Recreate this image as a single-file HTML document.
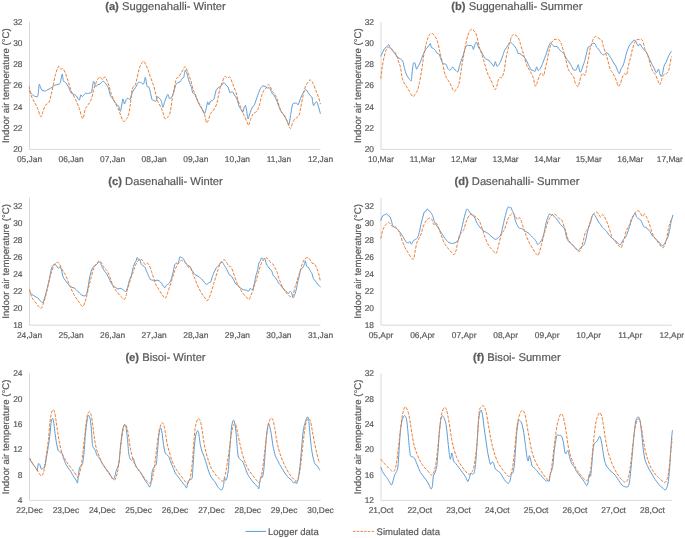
<!DOCTYPE html>
<html><head><meta charset="utf-8"><style>
html,body{margin:0;padding:0;background:#fff;}
svg{display:block;}
text{text-rendering:geometricPrecision;font-family:"Liberation Sans",Arial,sans-serif;fill:#595959;stroke:#595959;stroke-width:0.2px;}
.t{font-size:11.2px;}
.yt{font-size:9.6px;}
.l{font-size:8.4px;}
.lg{font-size:9.5px;}
.ax{fill:none;stroke:#d9d9d9;stroke-width:1;}
.log{fill:none;stroke:#5b9bd5;stroke-width:1.0;stroke-linejoin:round;}
.sim{fill:none;stroke:#ed7d31;stroke-width:1.0;stroke-dasharray:3.1,1.4;}
</style></head><body>
<svg width="685" height="538" viewBox="0 0 685 538">
<text x="165.5" y="9.5" class="t" text-anchor="middle"><tspan font-weight="bold">(a)</tspan> Suggenahalli- Winter</text>
<text transform="translate(8.9,85.7) rotate(-90)" class="yt" text-anchor="middle">Indoor air temperature (°C)</text>
<text x="22.5" y="152.1" class="l" text-anchor="end">20</text>
<text x="22.5" y="130.9" class="l" text-anchor="end">22</text>
<text x="22.5" y="109.6" class="l" text-anchor="end">24</text>
<text x="22.5" y="88.4" class="l" text-anchor="end">26</text>
<text x="22.5" y="67.2" class="l" text-anchor="end">28</text>
<text x="22.5" y="45.9" class="l" text-anchor="end">30</text>
<text x="22.5" y="24.7" class="l" text-anchor="end">32</text>
<text x="29.5" y="161.9" class="l" text-anchor="middle">05,Jan</text>
<text x="71.1" y="161.9" class="l" text-anchor="middle">06,Jan</text>
<text x="112.6" y="161.9" class="l" text-anchor="middle">07,Jan</text>
<text x="154.2" y="161.9" class="l" text-anchor="middle">08,Jan</text>
<text x="195.8" y="161.9" class="l" text-anchor="middle">09,Jan</text>
<text x="237.4" y="161.9" class="l" text-anchor="middle">10,Jan</text>
<text x="278.9" y="161.9" class="l" text-anchor="middle">11,Jan</text>
<text x="320.5" y="161.9" class="l" text-anchor="middle">12,Jan</text>
<path d="M29.5 22V149.4H320.5" class="ax"/>
<path d="M29.19 89.94C29.4 90.34 30.42 92.67 30.97 93.36C31.53 94.06 33.17 95.55 33.95 95.89C34.73 96.24 37.06 97.64 37.67 96.34C38.27 95.04 38.89 86.01 39.15 84.74C39.41 83.47 39.6 84.88 39.9 85.48C40.19 86.09 41.16 89.29 41.68 89.94C42.2 90.6 43.78 91.08 44.36 91.13C44.93 91.19 45.72 90.82 46.59 90.39C47.45 89.96 50.92 87.99 51.79 87.42C52.66 86.84 53.15 85.88 54.02 85.48C54.89 85.08 58.48 84.34 59.23 84C59.97 83.65 60.07 83.67 60.42 82.51C60.76 81.35 61.85 74.21 62.2 74.03C62.55 73.86 63.04 80.09 63.39 81.02C63.74 81.96 64.62 81.46 65.17 82.06C65.73 82.67 67.45 84.96 68.15 86.23C68.84 87.49 70.43 91.96 71.12 92.92C71.82 93.87 73.49 94.06 74.1 94.41C74.7 94.75 75.72 95.23 76.33 95.89C76.93 96.55 78.78 100.18 79.3 100.06C79.82 99.93 80.44 95.25 80.79 94.85C81.14 94.45 81.93 96.6 82.28 96.64C82.62 96.67 83.33 95.58 83.76 95.15C84.2 94.71 85.56 93.09 85.99 92.92C86.43 92.74 87.05 93.66 87.48 93.66C87.91 93.66 89.22 93.09 89.71 92.92C90.2 92.74 91.21 93.51 91.64 92.17C92.08 90.84 92.96 82.16 93.43 81.47C93.9 80.77 95.14 85.85 95.66 86.23C96.18 86.61 97.37 85 97.89 84.74C98.41 84.48 99.51 84.43 100.12 84C100.73 83.56 102.49 81.11 103.09 81.02C103.7 80.94 104.72 82.47 105.32 83.25C105.93 84.03 107.69 86.24 108.3 87.71C108.9 89.19 110.01 94.59 110.53 95.89C111.05 97.19 112.15 98 112.76 98.87C113.37 99.73 115.04 102.46 115.73 103.33C116.43 104.19 118.15 105.38 118.71 106.3C119.26 107.22 120 112.08 120.49 111.21C120.98 110.34 122.42 99.7 122.87 98.87C123.32 98.03 123.98 103.98 124.36 104.07C124.74 104.16 125.72 100.3 126.14 99.61C126.56 98.92 127.5 98.16 127.97 98.12C128.45 98.09 129.68 100.01 130.2 99.31C130.72 98.62 131.83 93.53 132.43 92.17C133.04 90.82 134.71 88.84 135.41 87.71C136.1 86.59 137.78 83.12 138.38 82.51C138.99 81.9 140.01 82.34 140.61 82.51C141.22 82.68 143.03 84.6 143.59 84C144.14 83.39 144.97 77.04 145.37 77.3C145.77 77.57 146.61 85.1 147.01 86.23C147.41 87.35 148.41 86.28 148.79 86.97C149.17 87.66 149.9 90.7 150.28 92.17C150.66 93.65 151.63 98.66 152.06 99.61C152.5 100.56 153.55 100.14 154 100.35C154.45 100.56 155.5 101.83 155.93 101.39C156.36 100.96 157.25 96.93 157.71 96.64C158.18 96.34 159.51 98.35 159.94 98.87C160.38 99.39 161.08 100.11 161.43 101.1C161.78 102.09 162.52 107.34 162.92 107.34C163.32 107.34 164.28 102.61 164.85 101.1C165.42 99.59 167.27 94.67 167.83 94.41C168.38 94.14 169.14 98.61 169.61 98.87C170.08 99.13 171.41 97.24 171.84 96.64C172.27 96.03 172.89 94.96 173.33 93.66C173.76 92.36 175.04 86.78 175.56 85.48C176.08 84.18 177.27 82.91 177.79 82.51C178.31 82.11 179.55 82.5 180.02 82.06C180.49 81.63 181.37 79.35 181.8 78.79C182.24 78.24 183.34 78.31 183.74 77.3C184.14 76.3 184.82 70.51 185.22 70.17C185.62 69.82 186.72 73.06 187.16 74.33C187.59 75.6 188.42 79.46 188.94 81.02C189.46 82.58 191.18 86.33 191.62 87.71C192.05 89.1 192.31 92.19 192.66 92.92C193 93.65 194.16 93.35 194.59 93.96C195.02 94.57 195.91 97.03 196.38 98.12C196.84 99.22 198 102.11 198.61 103.33C199.21 104.54 200.89 107.32 201.58 108.53C202.27 109.75 203.98 113.91 204.55 113.74C205.13 113.56 206.12 108.43 206.49 107.04C206.85 105.66 207.38 102.1 207.68 101.84C207.97 101.58 208.69 104.9 209.01 104.81C209.34 104.73 210.07 101.62 210.5 101.1C210.94 100.58 212.3 100.7 212.73 100.35C213.17 100.01 213.84 99.25 214.22 98.12C214.6 97 215.57 91.87 216 90.69C216.44 89.51 217.45 88.5 217.94 88.01C218.42 87.53 219.65 86.91 220.17 86.52C220.69 86.14 221.98 85.21 222.4 84.74C222.82 84.27 223.4 82.51 223.78 82.51C224.17 82.51 225.23 84.22 225.72 84.74C226.2 85.26 227.43 86.02 227.95 86.97C228.47 87.92 229.69 92.4 230.18 92.92C230.66 93.44 231.59 91.17 232.11 91.43C232.63 91.69 234.08 94.28 234.64 95.15C235.19 96.02 236.35 97.57 236.87 98.87C237.39 100.17 238.58 105 239.1 106.3C239.62 107.6 240.9 109.32 241.33 110.02C241.76 110.71 242.47 112.6 242.82 112.25C243.16 111.9 243.99 107.83 244.3 107.04C244.62 106.26 245.23 105.21 245.49 105.56C245.75 105.9 246.24 108.46 246.54 110.02C246.83 111.58 247.59 118.68 248.02 118.94C248.46 119.2 249.73 113.64 250.25 112.25C250.77 110.86 252 107.91 252.48 107.04C252.97 106.18 253.95 105.77 254.42 104.81C254.88 103.86 255.98 100.34 256.5 98.87C257.02 97.39 258.36 93.48 258.88 92.17C259.4 90.87 260.49 88.46 260.96 87.71C261.43 86.97 262.41 85.92 262.89 85.78C263.38 85.64 264.6 86.26 265.12 86.52C265.64 86.78 266.87 87.87 267.35 88.01C267.84 88.15 268.94 87.57 269.29 87.71C269.63 87.85 269.98 88.51 270.33 89.2C270.67 89.89 271.83 92.97 272.26 93.66C272.69 94.36 273.58 94.45 274.04 95.15C274.51 95.84 275.75 98.4 276.28 99.61C276.8 100.82 277.99 104.26 278.51 105.56C279.03 106.86 280.22 109.81 280.74 110.76C281.26 111.72 282.45 112.96 282.97 113.74C283.49 114.52 284.68 116.5 285.2 117.45C285.72 118.41 286.99 121.05 287.43 121.91C287.86 122.78 288.53 125.76 288.91 124.89C289.3 124.02 290.27 116.91 290.7 114.48C291.13 112.05 292.15 105.37 292.63 104.07C293.12 102.77 294.43 103.47 294.86 103.33C295.3 103.19 295.97 102.71 296.35 102.88C296.73 103.05 297.7 105.2 298.13 104.81C298.57 104.43 299.58 100.82 300.07 99.61C300.55 98.4 301.78 95.45 302.3 94.41C302.82 93.36 304.09 91.26 304.53 90.69C304.96 90.12 305.58 89.24 306.01 89.5C306.45 89.76 307.72 92.17 308.25 92.92C308.77 93.66 310.04 95.37 310.48 95.89C310.91 96.41 311.62 96.25 311.96 97.38C312.31 98.51 313.05 104.95 313.45 105.56C313.85 106.16 314.98 103.02 315.38 102.58C315.78 102.15 316.52 101.41 316.87 101.84C317.22 102.27 317.94 104.91 318.36 106.3C318.77 107.69 320.2 112.87 320.44 113.74" class="log"/>
<path d="M29.19 86.23C29.49 87.71 30.06 92.42 30.97 95.15C31.89 97.87 33.58 100.35 34.69 102.58C35.81 104.81 36.67 106.18 37.67 108.53C38.66 110.89 39.77 116.09 40.64 116.71C41.51 117.33 42.13 114.11 42.87 112.25C43.61 110.39 44.11 107.17 45.1 105.56C46.09 103.95 47.83 104.32 48.82 102.58C49.81 100.85 50.3 98.12 51.05 95.15C51.79 92.17 52.54 88.21 53.28 84.74C54.02 81.27 54.64 77.35 55.51 74.33C56.38 71.31 57.62 67.47 58.48 66.6C59.35 65.73 59.97 68.78 60.71 69.13C61.46 69.47 62.2 68.06 62.94 68.68C63.69 69.3 64.31 70.79 65.17 72.84C66.04 74.9 67.16 78.05 68.15 81.02C69.14 84 69.88 87.59 71.12 90.69C72.36 93.79 74.22 96.64 75.58 99.61C76.95 102.58 78.11 105.36 79.3 108.53C80.49 111.7 81.73 118.52 82.72 118.64C83.71 118.77 84.46 111.46 85.25 109.28C86.04 107.09 86.49 107.17 87.48 105.56C88.47 103.95 90.21 102.09 91.2 99.61C92.19 97.13 92.56 93.66 93.43 90.69C94.29 87.71 95.36 84.05 96.4 81.77C97.44 79.49 98.68 77.38 99.67 77.01C100.66 76.64 101.46 79.54 102.35 79.54C103.24 79.54 104.03 76.26 105.03 77.01C106.02 77.75 107.26 81.22 108.3 84C109.34 86.77 110.16 90.56 111.27 93.66C112.39 96.76 113.75 99.86 114.99 102.58C116.23 105.31 117.34 106.92 118.71 110.02C120.07 113.12 121.93 119.68 123.17 121.17C124.41 122.66 125.34 119.68 126.14 118.94C126.94 118.2 127.3 118.94 127.97 116.71C128.65 114.48 129.58 109.65 130.2 105.56C130.82 101.47 131.2 95.27 131.69 92.17C132.19 89.08 132.56 88.21 133.18 86.97C133.8 85.73 134.79 86.1 135.41 84.74C136.03 83.38 136.28 81.39 136.9 78.79C137.52 76.19 138.38 71.6 139.13 69.13C139.87 66.65 140.61 65.24 141.36 63.92C142.1 62.61 142.84 61.12 143.59 61.25C144.33 61.37 145.07 63.23 145.82 64.67C146.56 66.1 147.3 67.89 148.05 69.87C148.79 71.85 149.41 74.08 150.28 76.56C151.15 79.04 152.39 82.01 153.25 84.74C154.12 87.47 154.86 90.44 155.48 92.92C156.1 95.4 156.35 97.75 156.97 99.61C157.59 101.47 158.46 102.58 159.2 104.07C159.94 105.56 160.74 106.92 161.43 108.53C162.13 110.14 162.79 112.05 163.36 113.74C163.93 115.42 164.18 118.02 164.85 118.64C165.52 119.26 166.59 118.15 167.38 117.45C168.17 116.76 168.99 116.21 169.61 114.48C170.23 112.74 170.6 110.14 171.1 107.04C171.59 103.95 172.09 98.87 172.58 95.89C173.08 92.92 173.45 92.05 174.07 89.2C174.69 86.35 175.56 80.77 176.3 78.79C177.04 76.81 177.79 78.17 178.53 77.3C179.28 76.44 180.02 74.83 180.76 73.59C181.51 72.35 182.25 71.03 182.99 69.87C183.74 68.71 184.48 66.35 185.22 66.6C185.97 66.85 186.59 69.2 187.45 71.36C188.32 73.51 189.49 76.56 190.43 79.54C191.37 82.51 192.24 86.6 193.1 89.2C193.97 91.8 194.84 93.17 195.63 95.15C196.43 97.13 197 99.24 197.86 101.1C198.73 102.96 199.85 104.44 200.84 106.3C201.83 108.16 203.07 110.39 203.81 112.25C204.55 114.11 204.85 115.72 205.3 117.45C205.74 119.19 205.99 122.16 206.49 122.66C206.98 123.15 207.6 121.91 208.27 120.43C208.94 118.94 209.63 115.47 210.5 113.74C211.37 112 212.48 111.51 213.48 110.02C214.47 108.53 215.71 106.8 216.45 104.81C217.19 102.83 217.32 100.97 217.94 98.12C218.56 95.27 219.42 90.44 220.17 87.71C220.91 84.99 221.65 83.62 222.4 81.77C223.15 79.91 223.88 77.18 224.68 76.56C225.48 75.94 226.36 77.97 227.2 78.05C228.05 78.12 228.99 76.51 229.73 77.01C230.48 77.5 230.97 79.36 231.67 81.02C232.36 82.68 233.15 84.99 233.9 86.97C234.64 88.95 235.38 90.56 236.13 92.92C236.87 95.27 237.61 98.74 238.36 101.1C239.1 103.45 239.84 105.19 240.59 107.04C241.33 108.9 242.07 110.51 242.82 112.25C243.56 113.98 244.3 115.72 245.05 117.45C245.79 119.19 246.66 121.37 247.28 122.66C247.9 123.95 248.15 125.93 248.77 125.19C249.39 124.44 250.25 120.11 251 118.2C251.74 116.29 252.48 114.73 253.23 113.74C253.97 112.74 254.71 112.87 255.46 112.25C256.2 111.63 256.94 111.51 257.69 110.02C258.43 108.53 259.3 105.56 259.92 103.33C260.54 101.1 260.79 98.74 261.41 96.64C262.02 94.53 262.89 92.05 263.64 90.69C264.38 89.32 265.12 89.5 265.87 88.46C266.61 87.42 267.35 84.69 268.1 84.44C268.84 84.19 269.58 85.81 270.33 86.97C271.07 88.14 271.81 90.19 272.56 91.43C273.3 92.67 274.04 93.17 274.79 94.41C275.53 95.64 276.28 96.88 277.02 98.87C277.76 100.85 278.51 104.07 279.25 106.3C279.99 108.53 280.61 110.76 281.48 112.25C282.35 113.74 283.46 113.61 284.45 115.22C285.44 116.83 286.44 119.68 287.43 121.91C288.42 124.14 289.53 128.48 290.4 128.61C291.27 128.73 291.89 124.27 292.63 122.66C293.38 121.05 294.12 119.81 294.86 118.94C295.61 118.07 296.35 118.2 297.09 117.45C297.84 116.71 298.7 116.21 299.32 114.48C299.94 112.74 300.19 110.14 300.81 107.04C301.43 103.95 302.3 99.24 303.04 95.89C303.78 92.55 304.4 89.32 305.27 86.97C306.14 84.62 307.38 82.93 308.25 81.77C309.11 80.6 309.68 79.73 310.48 79.98C311.27 80.23 312.14 81.59 313 83.25C313.87 84.91 314.79 87.71 315.68 89.94C316.57 92.17 317.56 94.28 318.36 96.64C319.15 98.99 320.09 102.83 320.44 104.07" class="sim"/>
<text x="516.9" y="9.5" class="t" text-anchor="middle"><tspan font-weight="bold">(b)</tspan> Suggenahalli- Summer</text>
<text transform="translate(360.6,85.7) rotate(-90)" class="yt" text-anchor="middle">Indoor air temperature (°C)</text>
<text x="374" y="152.1" class="l" text-anchor="end">20</text>
<text x="374" y="130.9" class="l" text-anchor="end">22</text>
<text x="374" y="109.6" class="l" text-anchor="end">24</text>
<text x="374" y="88.4" class="l" text-anchor="end">26</text>
<text x="374" y="67.2" class="l" text-anchor="end">28</text>
<text x="374" y="45.9" class="l" text-anchor="end">30</text>
<text x="374" y="24.7" class="l" text-anchor="end">32</text>
<text x="381" y="161.9" class="l" text-anchor="middle">10,Mar</text>
<text x="422.5" y="161.9" class="l" text-anchor="middle">11,Mar</text>
<text x="464.1" y="161.9" class="l" text-anchor="middle">12,Mar</text>
<text x="505.6" y="161.9" class="l" text-anchor="middle">13,Mar</text>
<text x="547.2" y="161.9" class="l" text-anchor="middle">14,Mar</text>
<text x="588.7" y="161.9" class="l" text-anchor="middle">15,Mar</text>
<text x="630.3" y="161.9" class="l" text-anchor="middle">16,Mar</text>
<text x="669.8" y="161.9" class="l" text-anchor="middle">17,Mar</text>
<path d="M381 22V149.4H671.8" class="ax"/>
<path d="M380.78 56.43C381.01 55.91 382.23 52.92 382.72 51.97C383.2 51.02 384.43 48.89 384.95 48.25C385.47 47.61 386.74 46.9 387.18 46.47C387.61 46.03 388.32 44.41 388.67 44.54C389.01 44.66 389.72 46.82 390.15 47.51C390.59 48.2 391.78 49.7 392.38 50.48C392.99 51.26 394.75 53.39 395.36 54.2C395.96 55.02 396.98 56.92 397.59 57.47C398.19 58.03 399.95 58.51 400.56 58.96C401.17 59.41 402.36 60.33 402.79 61.34C403.23 62.34 403.93 66.25 404.28 67.58C404.63 68.92 405.33 71.66 405.77 72.79C406.2 73.92 407.48 76.38 408 77.25C408.52 78.12 409.83 79.88 410.23 80.22C410.63 80.57 411.16 81.52 411.42 80.22C411.68 78.92 412.21 71.07 412.46 69.07C412.7 67.08 413.2 63.82 413.5 63.12C413.79 62.43 414.64 62.43 414.99 63.12C415.33 63.82 416.13 68.64 416.47 69.07C416.82 69.5 417.56 67.53 417.96 66.84C418.36 66.15 419.41 64.25 419.89 63.12C420.38 62 421.69 58.3 422.12 57.17C422.56 56.05 423.18 54.41 423.61 53.46C424.04 52.5 425.32 49.78 425.84 49C426.36 48.22 427.55 47.41 428.07 46.77C428.59 46.12 429.92 43.41 430.3 43.49C430.68 43.58 431 46.95 431.34 47.51C431.69 48.06 432.79 47.91 433.28 48.25C433.76 48.6 435.04 49.88 435.51 50.48C435.97 51.09 436.86 53.02 437.29 53.46C437.72 53.89 438.82 53.59 439.22 54.2C439.62 54.81 440.31 57.62 440.71 58.66C441.11 59.7 442.21 62.52 442.64 63.12C443.08 63.73 444.01 63.69 444.43 63.87C444.84 64.04 445.83 64.09 446.21 64.61C446.59 65.13 447.3 67.67 447.7 68.33C448.1 68.99 449.23 70.17 449.63 70.26C450.03 70.35 450.77 69.47 451.12 69.07C451.47 68.67 452.26 66.84 452.61 66.84C452.95 66.84 453.69 68.64 454.09 69.07C454.49 69.5 455.59 70.21 456.03 70.56C456.46 70.9 457.43 72.48 457.81 72.04C458.19 71.61 458.92 68.14 459.3 66.84C459.68 65.54 460.65 62.19 461.08 60.89C461.52 59.59 462.56 57.08 463.01 55.69C463.47 54.3 464.51 50.21 464.95 49C465.38 47.78 466.26 45.68 466.73 45.28C467.2 44.88 468.44 45.54 468.96 45.58C469.48 45.61 470.79 45.47 471.19 45.58C471.59 45.68 472.12 46.02 472.38 46.47C472.64 46.92 473.13 49.67 473.42 49.44C473.72 49.22 474.56 45.37 474.91 44.54C475.26 43.7 475.92 41.87 476.4 42.3C476.87 42.74 478.41 47.21 478.97 48.25C479.53 49.29 480.68 50.36 481.2 51.23C481.72 52.09 482.91 54.79 483.43 55.69C483.96 56.59 485.14 58.47 485.67 58.96C486.19 59.44 487.38 59.54 487.9 59.85C488.42 60.16 489.61 61.08 490.13 61.64C490.65 62.19 491.92 64.05 492.36 64.61C492.79 65.16 493.5 66.74 493.84 66.39C494.19 66.05 494.98 61.67 495.33 61.64C495.68 61.6 496.47 65.66 496.82 66.1C497.16 66.53 497.87 65.87 498.3 65.35C498.74 64.83 500.01 62.76 500.54 61.64C501.06 60.51 502.33 56.9 502.77 55.69C503.2 54.47 503.82 52.18 504.25 51.23C504.69 50.27 506 48.29 506.48 47.51C506.97 46.73 507.98 45.18 508.42 44.54C508.85 43.89 509.73 42.09 510.2 42.01C510.67 41.92 511.88 43.24 512.43 43.79C512.99 44.35 514.44 46.07 514.96 46.77C515.48 47.46 516.55 48.96 516.89 49.74C517.24 50.52 517.59 53.02 517.93 53.46C518.28 53.89 519.38 53.23 519.87 53.46C520.35 53.68 521.58 54.96 522.1 55.39C522.62 55.82 523.81 56.53 524.33 57.17C524.85 57.82 526.04 59.94 526.56 60.89C527.08 61.85 528.27 64.31 528.79 65.35C529.31 66.39 530.5 69.21 531.02 69.81C531.54 70.42 532.76 70.38 533.25 70.56C533.73 70.73 534.78 71.73 535.18 71.3C535.58 70.87 536.32 66.93 536.67 66.84C537.02 66.75 537.77 70.3 538.16 70.56C538.54 70.82 539.47 69.76 539.94 69.07C540.41 68.38 541.65 65.82 542.17 64.61C542.69 63.4 543.88 60.05 544.4 58.66C544.92 57.27 546.15 54.1 546.63 52.71C547.12 51.33 548.13 47.89 548.57 46.77C549 45.64 549.93 43.31 550.35 43.05C550.77 42.79 551.7 44.14 552.13 44.54C552.57 44.93 553.49 46.24 554.07 46.47C554.64 46.69 556.43 46.12 557.04 46.47C557.65 46.82 558.75 48.85 559.27 49.44C559.79 50.03 560.98 51.06 561.5 51.52C562.02 51.99 563.21 52.71 563.73 53.46C564.25 54.2 565.44 57.05 565.96 57.92C566.48 58.79 567.59 60.02 568.19 60.89C568.8 61.76 570.56 64.31 571.17 65.35C571.77 66.39 572.8 69.29 573.4 69.81C573.99 70.33 575.71 70.42 576.27 69.81C576.83 69.21 577.81 64.44 578.2 64.61C578.6 64.78 579.4 70.43 579.69 71.3C579.99 72.17 580.39 72.57 580.73 72.04C581.08 71.52 582.18 68.23 582.67 66.84C583.15 65.45 584.43 61.8 584.9 60.15C585.36 58.5 586.3 54.24 586.68 52.71C587.06 51.19 587.77 47.79 588.17 47.06C588.57 46.33 589.7 46.76 590.1 46.47C590.5 46.17 591.24 44.93 591.59 44.54C591.93 44.14 592.68 43.14 593.07 43.05C593.47 42.96 594.57 43.27 595.01 43.79C595.44 44.31 596.32 46.82 596.79 47.51C597.26 48.2 598.5 49.05 599.02 49.74C599.54 50.43 600.73 52.85 601.25 53.46C601.77 54.06 603 54.94 603.48 54.94C603.97 54.94 604.98 53.72 605.42 53.46C605.85 53.2 606.73 52.45 607.2 52.71C607.67 52.97 608.91 54.91 609.43 55.69C609.95 56.47 611.14 58.54 611.66 59.41C612.18 60.27 613.37 62.26 613.89 63.12C614.41 63.99 615.69 65.97 616.12 66.84C616.56 67.71 617.23 69.78 617.61 70.56C617.99 71.34 619.01 73.71 619.39 73.53C619.78 73.36 620.48 69.94 620.88 69.07C621.28 68.2 622.36 67.14 622.81 66.1C623.27 65.06 624.31 61.71 624.75 60.15C625.18 58.59 626.06 54.28 626.53 52.71C627 51.15 628.24 47.84 628.76 46.77C629.28 45.69 630.47 44.19 630.99 43.49C631.51 42.8 632.79 41.22 633.22 40.82C633.66 40.42 634.36 39.9 634.71 40.07C635.06 40.25 635.8 41.61 636.2 42.3C636.6 43 637.7 45.85 638.13 46.02C638.56 46.2 639.5 43.71 639.91 43.79C640.33 43.88 641.21 46.07 641.7 46.77C642.18 47.46 643.56 49.13 644.08 49.74C644.6 50.35 645.69 51.28 646.16 51.97C646.63 52.66 647.61 54.65 648.09 55.69C648.58 56.73 649.8 59.76 650.32 60.89C650.84 62.02 652.07 64.4 652.55 65.35C653.04 66.31 654.05 68.2 654.49 69.07C654.92 69.94 655.8 72.79 656.27 72.79C656.74 72.79 658.12 69.07 658.5 69.07C658.88 69.07 659.25 71.92 659.54 72.79C659.84 73.66 660.68 76.42 661.03 76.51C661.38 76.59 662.17 74.75 662.52 73.53C662.86 72.32 663.6 67.4 664 66.1C664.4 64.8 665.45 63.42 665.94 62.38C666.42 61.34 667.7 58.22 668.17 57.17C668.64 56.13 669.57 54.15 669.95 53.46C670.33 52.76 671.27 51.49 671.44 51.23" class="log"/>
<path d="M380.78 78.74C380.98 77.13 381.53 72.17 381.97 69.07C382.42 65.97 382.84 63.12 383.46 60.15C384.08 57.17 384.95 53.33 385.69 51.23C386.43 49.12 387.18 48 387.92 47.51C388.67 47.01 389.29 47.76 390.15 48.25C391.02 48.75 392.14 49.49 393.13 50.48C394.12 51.47 395.23 52.47 396.1 54.2C396.97 55.94 397.59 58.66 398.33 60.89C399.07 63.12 399.94 64.86 400.56 67.58C401.18 70.31 401.43 74.65 402.05 77.25C402.67 79.85 403.41 81.46 404.28 83.2C405.15 84.93 406.39 86.29 407.25 87.66C408.12 89.02 408.54 89.89 409.48 91.38C410.43 92.86 411.91 96.21 412.9 96.58C413.89 96.95 414.64 94.72 415.43 93.61C416.22 92.49 416.99 91.75 417.66 89.89C418.33 88.03 418.83 85.43 419.45 82.45C420.07 79.48 420.81 75.51 421.38 72.04C421.95 68.57 422.37 64.98 422.87 61.64C423.36 58.29 423.73 55.19 424.35 51.97C424.97 48.75 425.84 45.03 426.58 42.3C427.33 39.58 428.07 37.1 428.81 35.61C429.56 34.13 430.3 33.63 431.04 33.38C431.79 33.14 432.53 33.51 433.28 34.13C434.02 34.75 434.76 35.74 435.51 37.1C436.25 38.46 437.12 40.32 437.74 42.3C438.36 44.29 438.73 46.77 439.22 49C439.72 51.23 440.14 53.33 440.71 55.69C441.28 58.04 442.02 60.4 442.64 63.12C443.26 65.85 443.83 69.69 444.43 72.04C445.02 74.4 445.59 75.89 446.21 77.25C446.83 78.61 447.45 79.11 448.14 80.22C448.84 81.34 449.63 82.45 450.38 83.94C451.12 85.43 451.91 87.91 452.61 89.14C453.3 90.38 453.92 91.38 454.54 91.38C455.16 91.38 455.65 90.14 456.32 89.14C456.99 88.15 457.86 87.78 458.55 85.43C459.25 83.07 459.87 78.74 460.49 75.02C461.11 71.3 461.6 67.09 462.27 63.12C462.94 59.16 463.76 55.19 464.5 51.23C465.25 47.26 465.99 42.43 466.73 39.33C467.48 36.23 468.17 34.32 468.96 32.64C469.76 30.95 470.62 29.47 471.49 29.22C472.36 28.97 473.35 30.21 474.17 31.15C474.99 32.09 475.55 32.27 476.4 34.87C477.25 37.47 478.47 43.79 479.27 46.77C480.07 49.74 480.51 50.61 481.2 52.71C481.9 54.82 482.69 56.93 483.43 59.41C484.18 61.88 484.92 65.11 485.67 67.58C486.41 70.06 487.03 72.17 487.9 74.28C488.76 76.38 490 78.36 490.87 80.22C491.74 82.08 492.41 83.87 493.1 85.43C493.79 86.99 494.41 89.47 495.03 89.59C495.65 89.71 496.27 87.73 496.82 86.17C497.36 84.61 497.76 81.71 498.3 80.22C498.85 78.74 499.47 77.74 500.09 77.25C500.71 76.75 501.33 78.36 502.02 77.25C502.72 76.13 503.63 73.41 504.25 70.56C504.87 67.71 505.19 63.37 505.74 60.15C506.29 56.93 506.9 53.95 507.52 51.23C508.14 48.5 508.76 46.27 509.46 43.79C510.15 41.31 510.94 37.92 511.69 36.36C512.43 34.8 513.17 34.55 513.92 34.42C514.66 34.3 515.41 35.04 516.15 35.61C516.89 36.18 517.64 36.36 518.38 37.84C519.12 39.33 519.87 42.18 520.61 44.54C521.35 46.89 522.22 49.86 522.84 51.97C523.46 54.08 523.71 55.07 524.33 57.17C524.95 59.28 525.81 62.63 526.56 64.61C527.3 66.59 528.04 67.71 528.79 69.07C529.53 70.43 530.28 71.3 531.02 72.79C531.76 74.28 532.51 75.76 533.25 77.99C533.99 80.22 534.81 85.43 535.48 86.17C536.15 86.91 536.64 84.06 537.26 82.45C537.88 80.84 538.5 78.12 539.2 76.51C539.89 74.89 540.68 72.91 541.43 72.79C542.17 72.66 543.04 76.38 543.66 75.76C544.28 75.14 544.57 71.55 545.14 69.07C545.71 66.59 546.46 63.74 547.08 60.89C547.7 58.04 548.19 54.82 548.86 51.97C549.53 49.12 550.3 45.77 551.09 43.79C551.89 41.81 552.75 40.82 553.62 40.07C554.49 39.33 555.36 39.33 556.3 39.33C557.24 39.33 558.4 39.21 559.27 40.07C560.14 40.94 560.76 42.55 561.5 44.54C562.25 46.52 562.99 49.37 563.73 51.97C564.48 54.57 565.22 57.3 565.96 60.15C566.71 63 567.33 66.84 568.19 69.07C569.06 71.3 570.18 72.04 571.17 73.53C572.16 75.02 573.54 76.63 574.14 77.99C574.74 79.36 574.36 80.47 574.78 81.71C575.21 82.95 576.15 84.61 576.72 85.43C577.29 86.25 577.71 87.36 578.2 86.62C578.7 85.87 579.2 82.78 579.69 80.97C580.19 79.16 580.61 77 581.18 75.76C581.75 74.52 582.44 73.66 583.11 73.53C583.78 73.41 584.52 76.38 585.19 75.02C585.86 73.66 586.56 68.33 587.13 65.35C587.7 62.38 588.12 59.9 588.61 57.17C589.11 54.45 589.6 51.23 590.1 49C590.6 46.77 591.02 45.53 591.59 43.79C592.16 42.06 592.85 39.78 593.52 38.59C594.19 37.4 594.86 36.78 595.6 36.65C596.35 36.53 597.16 37.4 597.98 37.84C598.8 38.29 599.84 38.84 600.51 39.33C601.18 39.83 601.5 39.58 602 40.82C602.49 42.06 602.86 44.66 603.48 46.77C604.1 48.87 604.97 51.1 605.71 53.46C606.46 55.81 607.2 58.29 607.94 60.89C608.69 63.49 609.43 67.09 610.17 69.07C610.92 71.05 611.66 71.55 612.41 72.79C613.15 74.03 613.97 75.14 614.64 76.51C615.3 77.87 615.8 79.36 616.42 80.97C617.04 82.58 617.71 85.68 618.35 86.17C619 86.67 619.67 85.3 620.29 83.94C620.91 82.58 621.4 79.73 622.07 77.99C622.74 76.26 623.56 74.03 624.3 73.53C625.04 73.04 625.91 76.01 626.53 75.02C627.15 74.03 627.4 70.31 628.02 67.58C628.64 64.86 629.51 61.76 630.25 58.66C630.99 55.56 631.74 51.72 632.48 49C633.22 46.27 633.97 43.87 634.71 42.3C635.45 40.74 636.2 40.07 636.94 39.63C637.68 39.18 638.43 39.68 639.17 39.63C639.91 39.58 640.73 38.88 641.4 39.33C642.07 39.78 642.57 40.57 643.19 42.3C643.81 44.04 644.43 47.76 645.12 49.74C645.81 51.72 646.68 52.47 647.35 54.2C648.02 55.94 648.51 57.92 649.13 60.15C649.75 62.38 650.37 65.6 651.07 67.58C651.76 69.57 652.55 70.81 653.3 72.04C654.04 73.28 654.78 73.66 655.53 75.02C656.27 76.38 657.01 78.61 657.76 80.22C658.5 81.83 659.29 84.93 659.99 84.68C660.68 84.44 661.25 80.47 661.92 78.74C662.59 77 663.26 75.14 664 74.28C664.75 73.41 665.64 74.03 666.38 73.53C667.13 73.04 667.87 72.79 668.46 71.3C669.06 69.81 669.46 67.09 669.95 64.61C670.45 62.13 671.19 57.79 671.44 56.43" class="sim"/>
<text x="165.5" y="185.1" class="t" text-anchor="middle"><tspan font-weight="bold">(c)</tspan> Dasenahalli- Winter</text>
<text transform="translate(8.9,261.4) rotate(-90)" class="yt" text-anchor="middle">Indoor air temperature (°C)</text>
<text x="22.5" y="327.9" class="l" text-anchor="end">18</text>
<text x="22.5" y="310.9" class="l" text-anchor="end">20</text>
<text x="22.5" y="293.9" class="l" text-anchor="end">22</text>
<text x="22.5" y="276.9" class="l" text-anchor="end">24</text>
<text x="22.5" y="259.9" class="l" text-anchor="end">26</text>
<text x="22.5" y="242.9" class="l" text-anchor="end">28</text>
<text x="22.5" y="225.9" class="l" text-anchor="end">30</text>
<text x="22.5" y="208.9" class="l" text-anchor="end">32</text>
<text x="29.5" y="337.7" class="l" text-anchor="middle">24,Jan</text>
<text x="71.1" y="337.7" class="l" text-anchor="middle">25,Jan</text>
<text x="112.6" y="337.7" class="l" text-anchor="middle">26,Jan</text>
<text x="154.2" y="337.7" class="l" text-anchor="middle">27,Jan</text>
<text x="195.8" y="337.7" class="l" text-anchor="middle">28,Jan</text>
<text x="237.4" y="337.7" class="l" text-anchor="middle">29,Jan</text>
<text x="278.9" y="337.7" class="l" text-anchor="middle">30,Jan</text>
<text x="320.5" y="337.7" class="l" text-anchor="middle">31,Jan</text>
<path d="M29.5 197.7V325.2H320.5" class="ax"/>
<path d="M29.49 291.3C29.75 291.65 31.11 293.7 31.72 294.28C32.32 294.85 34 295.77 34.69 296.21C35.39 296.64 37.06 297.52 37.67 297.99C38.27 298.46 39.32 299.67 39.9 300.22C40.47 300.78 42.05 302.92 42.57 302.75C43.09 302.58 43.89 300.16 44.36 298.74C44.83 297.31 46.07 292.55 46.59 290.56C47.11 288.56 48.38 283.54 48.82 281.64C49.25 279.73 49.96 275.85 50.3 274.2C50.65 272.55 51.36 268.67 51.79 267.51C52.23 266.35 53.59 264.58 54.02 264.24C54.46 263.89 55.16 264.24 55.51 264.54C55.86 264.83 56.65 266.33 57 266.77C57.34 267.2 58.14 268.25 58.48 268.25C58.83 268.25 59.62 266.59 59.97 266.77C60.32 266.94 61.11 268.61 61.46 269.74C61.8 270.87 62.51 275.22 62.94 276.43C63.38 277.65 64.65 279.37 65.17 280.15C65.7 280.93 66.88 282.43 67.41 283.12C67.93 283.82 69.12 285.61 69.64 286.1C70.16 286.58 71.35 287.08 71.87 287.29C72.39 287.49 73.58 287.59 74.1 287.88C74.62 288.18 75.81 289.33 76.33 289.81C76.85 290.3 78.04 291.52 78.56 292.04C79.08 292.57 80.27 293.84 80.79 294.28C81.31 294.71 82.5 295.59 83.02 295.76C83.54 295.94 84.82 296.02 85.25 295.76C85.68 295.5 86.39 294.66 86.74 293.53C87.08 292.4 87.88 288 88.22 286.1C88.57 284.19 89.36 278.91 89.71 277.17C90.06 275.44 90.76 272.48 91.2 271.23C91.63 269.98 92.91 267.16 93.43 266.47C93.95 265.77 95.14 265.68 95.66 265.28C96.18 264.88 97.45 263.43 97.89 263.05C98.32 262.67 99.03 261.92 99.38 262.01C99.72 262.09 100.52 263.15 100.86 263.79C101.21 264.43 101.92 266.64 102.35 267.51C102.78 268.38 104.06 270.45 104.58 271.23C105.1 272.01 106.29 273.33 106.81 274.2C107.33 275.07 108.52 277.62 109.04 278.66C109.56 279.7 110.75 282.26 111.27 283.12C111.79 283.99 112.98 285.58 113.5 286.1C114.02 286.62 115.21 287.24 115.73 287.58C116.25 287.93 117.44 288.98 117.96 289.07C118.48 289.16 119.67 288.33 120.19 288.33C120.71 288.33 121.9 288.72 122.42 289.07C122.94 289.42 124.22 291.04 124.65 291.3C125.09 291.56 125.75 291.91 126.14 291.3C126.53 290.69 127.59 287.4 127.97 286.1C128.36 284.8 129.08 281.36 129.46 280.15C129.84 278.93 130.81 277.16 131.25 275.69C131.68 274.21 132.78 268.98 133.18 267.51C133.58 266.03 134.32 263.83 134.67 263.05C135.01 262.27 135.86 261.46 136.15 260.82C136.45 260.18 136.9 257.63 137.19 257.55C137.49 257.46 138.37 259.87 138.68 260.07C138.99 260.28 139.56 258.81 139.87 259.33C140.18 259.85 140.92 263.75 141.36 264.54C141.79 265.32 143.15 265.68 143.59 266.02C144.02 266.37 144.73 266.9 145.07 267.51C145.42 268.12 146.16 270.27 146.56 271.23C146.96 272.18 148.06 274.73 148.49 275.69C148.93 276.64 149.81 278.88 150.28 279.41C150.75 279.93 151.99 279.98 152.51 280.15C153.03 280.32 154.22 280.89 154.74 280.89C155.26 280.89 156.45 280.15 156.97 280.15C157.49 280.15 158.68 280.55 159.2 280.89C159.72 281.24 160.95 282.52 161.43 283.12C161.92 283.73 162.98 285.54 163.36 286.1C163.75 286.65 164.36 287.97 164.7 287.88C165.05 287.79 165.9 285.82 166.34 285.35C166.77 284.88 167.95 284.3 168.42 283.87C168.89 283.43 169.95 282.42 170.35 281.64C170.75 280.86 171.49 278.39 171.84 277.17C172.19 275.96 172.98 272.7 173.33 271.23C173.67 269.75 174.42 265.49 174.81 264.54C175.21 263.58 176.35 263.14 176.75 263.05C177.15 262.96 177.89 264.49 178.23 263.79C178.58 263.1 179.34 257.83 179.72 257.1C180.1 256.37 181.09 257.37 181.51 257.55C181.92 257.72 182.91 258.12 183.29 258.59C183.67 259.06 184.38 260.87 184.78 261.56C185.18 262.26 186.26 263.84 186.71 264.54C187.16 265.23 188.3 267.34 188.64 267.51C188.99 267.68 189.39 265.85 189.68 266.02C189.98 266.2 190.77 268.3 191.17 269C191.57 269.69 192.67 271.33 193.1 271.97C193.54 272.61 194.42 274.06 194.89 274.5C195.36 274.93 196.6 275.38 197.12 275.69C197.64 276 198.83 276.79 199.35 277.17C199.87 277.56 201.06 278.44 201.58 278.96C202.1 279.48 203.38 281.1 203.81 281.64C204.24 282.17 204.86 283.27 205.3 283.57C205.73 283.86 207.09 284.3 207.53 284.16C207.96 284.02 208.67 282.59 209.01 282.38C209.36 282.17 210.15 282.9 210.5 282.38C210.85 281.86 211.64 278.96 211.99 277.92C212.34 276.88 213.13 274.32 213.48 273.46C213.82 272.59 214.62 271.18 214.96 270.48C215.31 269.79 216.05 268.03 216.45 267.51C216.85 266.99 217.95 266.54 218.38 266.02C218.82 265.5 219.75 263.48 220.17 263.05C220.58 262.61 221.57 262.25 221.95 262.3C222.33 262.36 223.22 263.23 223.44 263.49C223.65 263.75 223.52 264.07 223.78 264.54C224.05 265 225.23 266.64 225.72 267.51C226.2 268.38 227.48 271.05 227.95 271.97C228.42 272.89 229.3 274.87 229.73 275.39C230.17 275.91 231.21 275.91 231.67 276.43C232.12 276.95 233.13 278.98 233.6 279.85C234.07 280.72 235.16 283.22 235.68 283.87C236.2 284.51 237.57 284.92 238.06 285.35C238.55 285.79 239.38 287.15 239.84 287.58C240.31 288.02 241.55 288.81 242.07 289.07C242.59 289.33 243.78 289.68 244.3 289.81C244.83 289.95 246.05 290.09 246.54 290.26C247.02 290.43 248.03 291.53 248.47 291.3C248.9 291.08 249.87 288.5 250.25 288.33C250.63 288.15 251.43 289.73 251.74 289.81C252.05 289.9 252.62 289.85 252.93 289.07C253.24 288.29 254.07 284.68 254.42 283.12C254.76 281.56 255.52 277.25 255.9 275.69C256.29 274.13 257.34 271.21 257.69 269.74C258.03 268.27 258.57 264.09 258.88 263.05C259.19 262.01 260.07 261.43 260.36 260.82C260.66 260.21 261.11 258.02 261.41 257.84C261.7 257.67 262.49 259.24 262.89 259.33C263.29 259.42 264.43 258.07 264.83 258.59C265.22 259.11 265.93 262.84 266.31 263.79C266.69 264.75 267.68 266.16 268.1 266.77C268.51 267.37 269.45 268.48 269.88 269C270.31 269.52 271.42 270.45 271.81 271.23C272.21 272.01 272.9 274.96 273.3 275.69C273.7 276.42 274.8 276.95 275.23 277.47C275.67 277.99 276.64 279.49 277.02 280.15C277.4 280.81 278.07 282.52 278.51 283.12C278.94 283.73 280.22 284.75 280.74 285.35C281.26 285.96 282.45 287.72 282.97 288.33C283.49 288.93 284.68 290.09 285.2 290.56C285.72 291.03 287.03 292 287.43 292.34C287.83 292.69 288.3 293.65 288.62 293.53C288.93 293.41 289.76 291.39 290.1 291.3C290.45 291.21 291.24 292.01 291.59 292.79C291.94 293.57 292.7 297.82 293.08 297.99C293.46 298.17 294.48 295.32 294.86 294.28C295.24 293.23 296 290.55 296.35 289.07C296.7 287.6 297.49 283.2 297.84 281.64C298.18 280.07 298.98 277.11 299.32 275.69C299.67 274.27 300.38 270.4 300.81 269.44C301.24 268.49 302.61 268.17 303.04 267.51C303.47 266.85 304.27 264.57 304.53 263.79C304.79 263.01 305.01 260.51 305.27 260.82C305.53 261.13 306.38 265.69 306.76 266.47C307.14 267.25 308.11 266.95 308.54 267.51C308.98 268.06 310.08 270.53 310.48 271.23C310.87 271.92 311.62 272.59 311.96 273.46C312.31 274.32 313.05 277.79 313.45 278.66C313.85 279.53 314.95 280.29 315.38 280.89C315.82 281.5 316.75 283.35 317.17 283.87C317.58 284.39 318.57 284.95 318.95 285.35C319.33 285.75 320.27 287.06 320.44 287.29" class="log"/>
<path d="M29.49 289.07C29.73 290.06 30.35 293.28 30.97 295.02C31.59 296.75 32.34 298.12 33.2 299.48C34.07 300.84 35.31 302.08 36.18 303.2C37.05 304.31 37.59 305.3 38.41 306.17C39.23 307.04 40.34 308.65 41.09 308.4C41.83 308.15 42.2 306.42 42.87 304.68C43.54 302.95 44.36 300.59 45.1 297.99C45.84 295.39 46.59 292.29 47.33 289.07C48.07 285.85 48.82 281.64 49.56 278.66C50.3 275.69 51.05 273.46 51.79 271.23C52.54 269 53.15 266.77 54.02 265.28C54.89 263.79 56.13 262.6 57 262.3C57.86 262.01 58.48 262.5 59.23 263.49C59.97 264.49 60.71 266.84 61.46 268.25C62.2 269.67 62.94 270.73 63.69 271.97C64.43 273.21 65.17 274.08 65.92 275.69C66.66 277.3 67.41 279.78 68.15 281.64C68.89 283.49 69.64 285.11 70.38 286.84C71.12 288.57 71.74 290.31 72.61 292.04C73.48 293.78 74.47 295.51 75.58 297.25C76.7 298.98 78.11 300.89 79.3 302.45C80.49 304.01 81.8 306.62 82.72 306.62C83.64 306.62 84.13 304.26 84.8 302.45C85.47 300.64 86.04 298.49 86.74 295.76C87.43 293.04 88.22 289.19 88.97 286.1C89.71 283 90.45 280.02 91.2 277.17C91.94 274.32 92.56 271.23 93.43 269C94.29 266.77 95.46 265.15 96.4 263.79C97.34 262.43 98.21 260.94 99.08 260.82C99.95 260.69 100.81 261.93 101.61 263.05C102.4 264.16 102.97 266.27 103.84 267.51C104.7 268.75 105.94 269.24 106.81 270.48C107.68 271.72 108.3 273.21 109.04 274.94C109.78 276.68 110.53 278.91 111.27 280.89C112.01 282.87 112.63 285.11 113.5 286.84C114.37 288.57 115.48 289.94 116.48 291.3C117.47 292.66 118.46 293.9 119.45 295.02C120.44 296.13 121.61 297.25 122.42 297.99C123.24 298.74 123.74 299.85 124.36 299.48C124.98 299.11 125.74 297 126.14 295.76C126.55 294.52 126.36 293.78 126.78 292.04C127.21 290.31 128.07 287.58 128.72 285.35C129.36 283.12 129.98 280.64 130.65 278.66C131.32 276.68 132.06 275.32 132.73 273.46C133.4 271.6 133.97 269.37 134.67 267.51C135.36 265.65 136.15 263.54 136.9 262.3C137.64 261.07 138.43 260.57 139.13 260.07C139.82 259.58 140.44 259.21 141.06 259.33C141.68 259.45 142.17 259.95 142.84 260.82C143.51 261.69 144.33 264.16 145.07 264.54C145.82 264.91 146.64 262.92 147.3 263.05C147.97 263.17 148.4 263.92 149.09 265.28C149.78 266.64 150.72 269.12 151.47 271.23C152.21 273.33 152.88 275.81 153.55 277.92C154.22 280.02 154.79 282.26 155.48 283.87C156.18 285.48 156.9 286.22 157.71 287.58C158.53 288.95 159.52 290.68 160.39 292.04C161.26 293.41 162.13 294.72 162.92 295.76C163.71 296.8 164.48 298.41 165.15 298.29C165.82 298.17 166.31 296.56 166.93 295.02C167.55 293.48 168.17 291.18 168.87 289.07C169.56 286.96 170.43 284.49 171.1 282.38C171.77 280.27 172.26 278.41 172.88 276.43C173.5 274.45 174.12 272.34 174.81 270.48C175.51 268.62 176.3 266.64 177.04 265.28C177.79 263.92 178.53 263.1 179.28 262.3C180.02 261.51 180.76 260.64 181.51 260.52C182.25 260.4 182.99 261.14 183.74 261.56C184.48 261.98 185.22 262.43 185.97 263.05C186.71 263.67 187.45 264.54 188.2 265.28C188.94 266.02 189.68 266.15 190.43 267.51C191.17 268.87 191.91 271.6 192.66 273.46C193.4 275.32 194.14 276.8 194.89 278.66C195.63 280.52 196.38 282.87 197.12 284.61C197.86 286.34 198.61 287.63 199.35 289.07C200.09 290.51 200.84 292 201.58 293.23C202.32 294.47 203.07 295.46 203.81 296.51C204.55 297.55 205.47 298.79 206.04 299.48C206.61 300.17 206.73 300.92 207.23 300.67C207.73 300.42 208.35 299.43 209.01 297.99C209.68 296.56 210.5 294.28 211.25 292.04C211.99 289.81 212.73 287.09 213.48 284.61C214.22 282.13 214.96 279.65 215.71 277.17C216.45 274.7 217.19 271.97 217.94 269.74C218.68 267.51 219.42 265.28 220.17 263.79C220.91 262.3 221.72 261.51 222.4 260.82C223.07 260.12 223.55 259.38 224.23 259.63C224.91 259.88 225.72 261.24 226.46 262.3C227.2 263.37 227.95 265.28 228.69 266.02C229.43 266.77 230.18 265.77 230.92 266.77C231.67 267.76 232.41 269.99 233.15 271.97C233.9 273.95 234.64 276.56 235.38 278.66C236.13 280.77 236.87 283 237.61 284.61C238.36 286.22 239.1 287.09 239.84 288.33C240.59 289.57 241.33 290.93 242.07 292.04C242.82 293.16 243.49 294.08 244.3 295.02C245.12 295.96 246.19 296.95 246.98 297.7C247.77 298.44 248.39 299.93 249.06 299.48C249.73 299.03 250.35 296.51 251 295.02C251.64 293.53 252.31 292.29 252.93 290.56C253.55 288.82 254.12 286.47 254.71 284.61C255.31 282.75 255.88 281.39 256.5 279.41C257.12 277.42 257.79 274.94 258.43 272.71C259.08 270.48 259.74 267.88 260.36 266.02C260.98 264.16 261.48 262.73 262.15 261.56C262.82 260.4 263.69 259.65 264.38 259.03C265.07 258.41 265.64 257.79 266.31 257.84C266.98 257.89 267.72 258.59 268.39 259.33C269.06 260.07 269.63 261.56 270.33 262.3C271.02 263.05 271.81 262.92 272.56 263.79C273.3 264.66 274.09 266.27 274.79 267.51C275.48 268.75 276.1 269.62 276.72 271.23C277.34 272.84 277.84 275.19 278.51 277.17C279.17 279.16 279.99 281.39 280.74 283.12C281.48 284.86 282.22 286.22 282.97 287.58C283.71 288.95 284.45 290.19 285.2 291.3C285.94 292.42 286.68 293.46 287.43 294.28C288.17 295.09 288.91 295.71 289.66 296.21C290.4 296.7 291.27 297.57 291.89 297.25C292.51 296.93 292.88 295.89 293.38 294.28C293.87 292.66 294.37 289.44 294.86 287.58C295.36 285.72 295.8 284.86 296.35 283.12C296.89 281.39 297.51 279.16 298.13 277.17C298.75 275.19 299.37 273.46 300.07 271.23C300.76 269 301.55 265.77 302.3 263.79C303.04 261.81 303.66 260.37 304.53 259.33C305.4 258.29 306.63 257.55 307.5 257.55C308.37 257.55 308.99 258.41 309.73 259.33C310.48 260.25 311.22 262.3 311.96 263.05C312.71 263.79 313.45 263.05 314.19 263.79C314.94 264.54 315.68 265.9 316.42 267.51C317.17 269.12 317.99 271.1 318.65 273.46C319.32 275.81 320.14 280.27 320.44 281.64" class="sim"/>
<text x="516.9" y="185.1" class="t" text-anchor="middle"><tspan font-weight="bold">(d)</tspan> Dasenahalli- Summer</text>
<text transform="translate(360.6,261.4) rotate(-90)" class="yt" text-anchor="middle">Indoor air temperature (°C)</text>
<text x="374" y="327.9" class="l" text-anchor="end">18</text>
<text x="374" y="310.9" class="l" text-anchor="end">20</text>
<text x="374" y="293.9" class="l" text-anchor="end">22</text>
<text x="374" y="276.9" class="l" text-anchor="end">24</text>
<text x="374" y="259.9" class="l" text-anchor="end">26</text>
<text x="374" y="242.9" class="l" text-anchor="end">28</text>
<text x="374" y="225.9" class="l" text-anchor="end">30</text>
<text x="374" y="208.9" class="l" text-anchor="end">32</text>
<text x="381" y="337.7" class="l" text-anchor="middle">05,Apr</text>
<text x="422.5" y="337.7" class="l" text-anchor="middle">06,Apr</text>
<text x="464.1" y="337.7" class="l" text-anchor="middle">07,Apr</text>
<text x="505.6" y="337.7" class="l" text-anchor="middle">08,Apr</text>
<text x="547.2" y="337.7" class="l" text-anchor="middle">09,Apr</text>
<text x="588.7" y="337.7" class="l" text-anchor="middle">10,Apr</text>
<text x="630.3" y="337.7" class="l" text-anchor="middle">11,Apr</text>
<text x="671.8" y="337.7" class="l" text-anchor="middle">12,Apr</text>
<path d="M381 197.7V325.2H671.8" class="ax"/>
<path d="M380.78 220.82C380.92 220.38 381.66 217.76 381.97 217.1C382.29 216.44 383.08 215.46 383.46 215.17C383.84 214.87 384.86 214.75 385.25 214.57C385.63 214.4 386.39 213.56 386.73 213.68C387.08 213.8 387.87 215.3 388.22 215.61C388.57 215.93 389.36 215.84 389.71 216.36C390.05 216.88 390.85 219.03 391.19 220.07C391.54 221.12 392.28 224.41 392.68 225.28C393.08 226.15 394.16 227.13 394.61 227.51C395.06 227.89 396.11 228.2 396.55 228.55C396.98 228.9 397.86 229.96 398.33 230.48C398.8 231 400.04 232.32 400.56 233.01C401.08 233.71 402.32 235.69 402.79 236.43C403.26 237.18 404.14 238.71 404.58 239.41C405.01 240.1 406.06 241.98 406.51 242.38C406.96 242.78 408.04 242.91 408.44 242.83C408.84 242.74 409.58 241.48 409.93 241.64C410.28 241.79 411.03 244.25 411.42 244.16C411.8 244.08 412.73 241.45 413.2 240.89C413.67 240.34 414.95 239.75 415.43 239.41C415.92 239.06 416.97 238.53 417.36 237.92C417.76 237.31 418.47 235.59 418.85 234.2C419.23 232.81 420.22 227.84 420.64 226.02C421.05 224.2 421.99 220.24 422.42 218.59C422.85 216.94 423.9 212.76 424.35 211.9C424.8 211.03 425.94 211.5 426.29 211.15C426.63 210.81 426.98 208.92 427.33 208.92C427.67 208.92 428.83 210.72 429.26 211.15C429.69 211.59 430.63 212.03 431.04 212.64C431.46 213.25 432.45 215.32 432.83 216.36C433.21 217.4 433.92 220.56 434.32 221.56C434.71 222.57 435.76 224.2 436.25 224.98C436.73 225.76 437.96 227.44 438.48 228.25C439 229.07 440.19 231.14 440.71 231.97C441.23 232.8 442.42 234.61 442.94 235.39C443.46 236.17 444.62 237.93 445.17 238.66C445.73 239.39 447.13 241.12 447.7 241.64C448.27 242.16 449.51 242.91 450.08 243.12C450.65 243.33 452.05 243.45 452.61 243.42C453.16 243.39 454.32 243.07 454.84 242.83C455.36 242.58 456.58 241.82 457.07 241.34C457.55 240.85 458.57 239.75 459 238.66C459.43 237.57 460.37 233.62 460.78 231.97C461.2 230.32 462.14 226.36 462.57 224.54C463 222.71 464.1 217.92 464.5 216.36C464.9 214.8 465.69 212.02 465.99 211.15C466.28 210.29 466.73 209.01 467.03 208.92C467.32 208.84 468.12 209.89 468.52 210.41C468.92 210.93 470 212.78 470.45 213.38C470.9 213.99 471.95 215.27 472.38 215.61C472.82 215.96 473.79 215.84 474.17 216.36C474.55 216.88 475.27 219.21 475.65 220.07C476.04 220.94 477.19 223.27 477.44 223.79C477.69 224.31 477.52 224.15 477.78 224.54C478.05 224.92 479.23 226.49 479.72 227.06C480.2 227.64 481.43 228.96 481.95 229.44C482.47 229.93 483.66 230.88 484.18 231.23C484.7 231.57 485.89 232.1 486.41 232.42C486.93 232.73 488.12 233.49 488.64 233.9C489.16 234.32 490.35 235.52 490.87 235.99C491.39 236.45 492.58 237.52 493.1 237.92C493.62 238.32 494.81 239.35 495.33 239.41C495.85 239.46 497.04 238.71 497.56 238.36C498.08 238.02 499.36 237 499.79 236.43C500.23 235.86 500.93 234.58 501.28 233.46C501.63 232.33 502.42 228.33 502.77 226.77C503.11 225.2 503.91 221.55 504.25 220.07C504.6 218.6 505.39 215.43 505.74 214.13C506.09 212.83 506.91 209.79 507.23 208.92C507.54 208.05 508.1 206.78 508.42 206.69C508.73 206.6 509.61 208.09 509.9 208.18C510.2 208.27 510.65 207.09 510.94 207.43C511.24 207.78 512.08 210.37 512.43 211.15C512.78 211.93 513.57 213 513.92 214.13C514.27 215.25 515.01 219.52 515.41 220.82C515.8 222.12 516.87 224.41 517.34 225.28C517.81 226.15 518.95 227.87 519.42 228.25C519.89 228.63 520.87 228.38 521.35 228.55C521.84 228.72 523.06 229.39 523.58 229.74C524.1 230.09 525.29 231.18 525.81 231.52C526.33 231.87 527.52 232.31 528.04 232.71C528.57 233.11 529.75 234.42 530.28 234.94C530.8 235.46 531.99 236.65 532.51 237.17C533.03 237.7 534.3 238.88 534.74 239.41C535.17 239.93 535.88 241.03 536.22 241.64C536.57 242.24 537.36 244.4 537.71 244.61C538.06 244.82 538.8 243.85 539.2 243.42C539.6 242.99 540.7 241.62 541.13 240.89C541.56 240.16 542.53 238.3 542.91 237.17C543.3 236.05 544.05 232.79 544.4 231.23C544.75 229.67 545.54 225.27 545.89 223.79C546.24 222.32 547.06 219.54 547.38 218.59C547.69 217.63 548.3 216.19 548.57 215.61C548.83 215.04 549.31 213.73 549.61 213.68C549.9 213.63 550.75 215.06 551.09 215.17C551.44 215.27 552.18 214.35 552.58 214.57C552.98 214.8 554.08 216.63 554.51 217.1C554.95 217.57 555.83 218.07 556.3 218.59C556.77 219.11 558.04 220.87 558.53 221.56C559.01 222.26 560.03 223.96 560.46 224.54C560.89 225.11 561.83 226.12 562.25 226.47C562.66 226.82 563.68 226.95 564.03 227.51C564.38 228.06 564.91 230.01 565.22 231.23C565.53 232.44 566.36 236.79 566.71 237.92C567.05 239.05 567.81 240.37 568.19 240.89C568.57 241.41 569.54 241.98 569.98 242.38C570.41 242.78 571.46 243.84 571.91 244.31C572.36 244.78 573.51 246.05 573.84 246.39C574.18 246.74 574.45 246.97 574.78 247.29C575.12 247.6 576.27 248.69 576.72 249.07C577.17 249.45 578.22 250.7 578.65 250.56C579.08 250.42 580.02 248.37 580.43 247.88C580.85 247.4 581.79 246.78 582.22 246.39C582.65 246.01 583.75 245.34 584.15 244.61C584.55 243.88 585.29 241.45 585.64 240.15C585.99 238.85 586.78 234.93 587.13 233.46C587.47 231.98 588.21 228.81 588.61 227.51C589.01 226.21 590.11 223.69 590.55 222.3C590.98 220.92 591.95 216.57 592.33 215.61C592.71 214.66 593.47 214.07 593.82 214.13C594.16 214.18 594.96 215.54 595.3 216.06C595.65 216.58 596.41 217.89 596.79 218.59C597.17 219.28 598.14 221.31 598.58 222.01C599.01 222.7 600.06 223.89 600.51 224.54C600.96 225.18 601.97 226.94 602.44 227.51C602.91 228.08 604.06 229.01 604.52 229.44C604.99 229.88 606.01 230.67 606.46 231.23C606.91 231.78 607.96 233.59 608.39 234.2C608.82 234.81 609.76 236 610.17 236.43C610.59 236.86 611.53 237.52 611.96 237.92C612.39 238.32 613.41 239.45 613.89 239.85C614.38 240.25 615.6 240.92 616.12 241.34C616.64 241.75 617.87 243 618.35 243.42C618.84 243.84 619.89 245.03 620.29 244.91C620.69 244.79 621.39 243.02 621.77 242.38C622.15 241.74 623.09 240.05 623.56 239.41C624.03 238.76 625.3 237.74 625.79 236.88C626.27 236.01 627.29 233.15 627.72 231.97C628.15 230.79 629.09 228.07 629.51 226.77C629.92 225.46 630.86 222.03 631.29 220.82C631.72 219.6 632.77 217.26 633.22 216.36C633.67 215.45 634.76 213 635.16 213.09C635.56 213.17 636.26 216.46 636.64 217.1C637.02 217.74 637.96 218.24 638.43 218.59C638.9 218.93 640.22 219.55 640.66 220.07C641.09 220.59 641.8 222.3 642.14 223.05C642.49 223.79 643.2 225.95 643.63 226.47C644.07 226.99 645.34 227.16 645.86 227.51C646.38 227.86 647.61 228.97 648.09 229.44C648.58 229.91 649.59 230.88 650.03 231.52C650.46 232.17 651.34 234.25 651.81 234.94C652.28 235.64 653.52 236.95 654.04 237.47C654.56 237.99 655.75 238.92 656.27 239.41C656.79 239.89 657.98 241.06 658.5 241.64C659.02 242.21 660.3 243.83 660.73 244.31C661.17 244.8 661.84 245.76 662.22 245.8C662.6 245.83 663.57 245.18 664 244.61C664.44 244.04 665.49 241.76 665.94 240.89C666.39 240.02 667.44 238.48 667.87 237.17C668.3 235.87 669.27 231.56 669.65 229.74C670.04 227.92 670.76 223.3 671.14 221.56C671.52 219.83 672.72 215.65 672.93 214.87" class="log"/>
<path d="M380.78 238.66C381.03 237.55 381.7 233.9 382.27 231.97C382.84 230.04 383.51 228.43 384.2 227.06C384.9 225.7 385.69 224.58 386.43 223.79C387.18 223 387.92 222.18 388.67 222.3C389.41 222.43 390.23 223.79 390.9 224.54C391.57 225.28 392.06 226.44 392.68 226.77C393.3 227.09 393.97 226.27 394.61 226.47C395.26 226.67 395.88 227.29 396.55 227.96C397.22 228.62 397.96 229.19 398.63 230.48C399.3 231.77 399.87 233.71 400.56 235.69C401.26 237.67 402.05 240.4 402.79 242.38C403.54 244.36 404.28 246.1 405.02 247.58C405.77 249.07 406.51 250.06 407.25 251.3C408 252.54 408.74 253.9 409.48 255.02C410.23 256.13 411.04 257.3 411.71 257.99C412.38 258.69 412.95 260.17 413.5 259.18C414.04 258.19 414.42 254.85 414.99 252.04C415.56 249.24 416.22 244.66 416.92 242.38C417.61 240.1 418.41 239.85 419.15 238.36C419.89 236.88 420.76 235.27 421.38 233.46C422 231.65 422.25 229.37 422.87 227.51C423.49 225.65 424.35 223.67 425.1 222.3C425.84 220.94 426.58 220.02 427.33 219.33C428.07 218.64 428.81 218.14 429.56 218.14C430.3 218.14 431.09 218.27 431.79 219.33C432.48 220.4 433.1 223.92 433.72 224.54C434.34 225.15 434.91 223.05 435.51 223.05C436.1 223.05 436.67 223.42 437.29 224.54C437.91 225.65 438.58 228 439.22 229.74C439.87 231.47 440.54 233.21 441.16 234.94C441.78 236.68 442.27 238.54 442.94 240.15C443.61 241.76 444.43 243.37 445.17 244.61C445.91 245.85 446.66 246.64 447.4 247.58C448.14 248.53 448.89 249.39 449.63 250.26C450.38 251.13 451.12 252.04 451.86 252.79C452.61 253.53 453.4 255.09 454.09 254.72C454.79 254.35 455.46 252.49 456.03 250.56C456.6 248.62 456.97 245.6 457.51 243.12C458.06 240.64 458.63 237.42 459.3 235.69C459.97 233.95 460.78 233.71 461.53 232.71C462.27 231.72 463.09 231.23 463.76 229.74C464.43 228.25 464.92 225.65 465.54 223.79C466.16 221.93 466.78 220.07 467.48 218.59C468.17 217.1 468.96 215.61 469.71 214.87C470.45 214.13 471.19 214 471.94 214.13C472.68 214.25 473.42 215.04 474.17 215.61C474.91 216.18 475.6 216.8 476.4 217.55C477.2 218.29 478.25 218.91 478.97 220.07C479.7 221.24 480.14 222.92 480.76 224.54C481.38 226.15 482.12 228 482.69 229.74C483.26 231.47 483.56 233.09 484.18 234.94C484.8 236.8 485.67 239.16 486.41 240.89C487.15 242.63 487.9 244.11 488.64 245.35C489.38 246.59 490.13 247.46 490.87 248.33C491.61 249.19 492.23 249.69 493.1 250.56C493.97 251.43 495.26 254.03 496.07 253.53C496.89 253.04 497.39 249.81 498.01 247.58C498.63 245.35 499.2 242.5 499.79 240.15C500.39 237.79 500.96 234.94 501.58 233.46C502.2 231.97 502.82 232.47 503.51 231.23C504.2 229.99 505.07 227.88 505.74 226.02C506.41 224.16 506.9 221.69 507.52 220.07C508.14 218.46 508.76 217.42 509.46 216.36C510.15 215.29 511.02 214.18 511.69 213.68C512.36 213.18 512.85 212.94 513.47 213.38C514.09 213.83 514.76 215.37 515.41 216.36C516.05 217.35 516.72 219.13 517.34 219.33C517.96 219.53 518.58 217.55 519.12 217.55C519.67 217.55 520.06 218.17 520.61 219.33C521.15 220.5 521.77 222.68 522.39 224.54C523.01 226.39 523.68 228.62 524.33 230.48C524.97 232.34 525.59 233.95 526.26 235.69C526.93 237.42 527.67 239.41 528.34 240.89C529.01 242.38 529.58 243.37 530.28 244.61C530.97 245.85 531.76 247.09 532.51 248.33C533.25 249.57 533.99 250.98 534.74 252.04C535.48 253.11 536.4 254.18 536.97 254.72C537.54 255.27 537.71 255.89 538.16 255.32C538.6 254.75 539.1 253.09 539.64 251.3C540.19 249.52 540.83 246.84 541.43 244.61C542.02 242.38 542.59 240.27 543.21 237.92C543.83 235.56 544.5 232.71 545.14 230.48C545.79 228.25 546.46 226.39 547.08 224.54C547.7 222.68 548.19 220.74 548.86 219.33C549.53 217.92 550.35 216.93 551.09 216.06C551.84 215.19 552.58 214.37 553.32 214.13C554.07 213.88 554.86 214.08 555.55 214.57C556.25 215.07 556.82 216.43 557.49 217.1C558.16 217.77 558.9 218.17 559.57 218.59C560.24 219.01 560.81 218.51 561.5 219.63C562.2 220.74 562.99 223.22 563.73 225.28C564.48 227.34 565.27 229.74 565.96 231.97C566.66 234.2 567.23 236.93 567.9 238.66C568.57 240.4 569.23 241.39 569.98 242.38C570.72 243.37 571.61 243.79 572.36 244.61C573.1 245.43 573.96 246.67 574.44 247.29C574.92 247.91 574.73 247.83 575.23 248.33C575.73 248.82 576.72 249.76 577.46 250.26C578.2 250.76 579 251.87 579.69 251.3C580.39 250.73 581.05 248.45 581.62 246.84C582.19 245.23 582.62 243.62 583.11 241.64C583.61 239.65 584.05 236.8 584.6 234.94C585.14 233.09 585.79 231.6 586.38 230.48C586.98 229.37 587.55 229.62 588.17 228.25C588.79 226.89 589.46 224.29 590.1 222.3C590.74 220.32 591.36 217.84 592.03 216.36C592.7 214.87 593.37 214.08 594.12 213.38C594.86 212.69 595.75 212.14 596.49 212.19C597.24 212.24 597.91 212.86 598.58 213.68C599.25 214.5 599.86 216.95 600.51 217.1C601.15 217.25 601.82 214.7 602.44 214.57C603.06 214.45 603.63 215.44 604.23 216.36C604.82 217.27 605.39 218.71 606.01 220.07C606.63 221.44 607.3 222.8 607.94 224.54C608.59 226.27 609.26 228.5 609.88 230.48C610.5 232.47 611.07 234.94 611.66 236.43C612.26 237.92 612.83 238.54 613.45 239.41C614.07 240.27 614.73 240.82 615.38 241.64C616.02 242.45 616.64 243.52 617.31 244.31C617.98 245.11 618.72 245.85 619.39 246.39C620.06 246.94 620.76 248.13 621.33 247.58C621.9 247.04 622.32 244.61 622.81 243.12C623.31 241.64 623.81 240.52 624.3 238.66C624.8 236.8 625.22 233.75 625.79 231.97C626.36 230.19 627.1 229.19 627.72 227.96C628.34 226.72 628.91 225.97 629.51 224.54C630.1 223.1 630.67 220.82 631.29 219.33C631.91 217.84 632.53 216.8 633.22 215.61C633.92 214.42 634.64 213.01 635.45 212.19C636.27 211.38 637.34 210.63 638.13 210.71C638.92 210.78 639.47 211.7 640.21 212.64C640.96 213.58 641.9 216.11 642.59 216.36C643.29 216.6 643.78 214.13 644.38 214.13C644.97 214.13 645.54 215.24 646.16 216.36C646.78 217.47 647.45 219.21 648.09 220.82C648.74 222.43 649.41 224.16 650.03 226.02C650.65 227.88 651.14 230.16 651.81 231.97C652.48 233.78 653.3 235.56 654.04 236.88C654.78 238.19 655.53 238.81 656.27 239.85C657.01 240.89 657.76 242.08 658.5 243.12C659.25 244.16 659.99 245.3 660.73 246.1C661.48 246.89 662.27 248.13 662.96 247.88C663.66 247.63 664.28 246.15 664.9 244.61C665.52 243.07 666.09 241.39 666.68 238.66C667.28 235.94 667.92 230.86 668.46 228.25C669.01 225.65 669.46 224.54 669.95 223.05C670.45 221.56 671.19 219.95 671.44 219.33" class="sim"/>
<text x="165.5" y="360.7" class="t" text-anchor="middle"><tspan font-weight="bold">(e)</tspan> Bisoi- Winter</text>
<text transform="translate(8.9,436.9) rotate(-90)" class="yt" text-anchor="middle">Indoor air temperature (°C)</text>
<text x="22.5" y="503.1" class="l" text-anchor="end">4</text>
<text x="22.5" y="477.7" class="l" text-anchor="end">8</text>
<text x="22.5" y="452.3" class="l" text-anchor="end">12</text>
<text x="22.5" y="426.9" class="l" text-anchor="end">16</text>
<text x="22.5" y="401.5" class="l" text-anchor="end">20</text>
<text x="22.5" y="376.1" class="l" text-anchor="end">24</text>
<text x="29.5" y="512.9" class="l" text-anchor="middle">22,Dec</text>
<text x="65.9" y="512.9" class="l" text-anchor="middle">23,Dec</text>
<text x="102.2" y="512.9" class="l" text-anchor="middle">24,Dec</text>
<text x="138.6" y="512.9" class="l" text-anchor="middle">25,Dec</text>
<text x="175" y="512.9" class="l" text-anchor="middle">26,Dec</text>
<text x="211.4" y="512.9" class="l" text-anchor="middle">27,Dec</text>
<text x="247.8" y="512.9" class="l" text-anchor="middle">28,Dec</text>
<text x="284.1" y="512.9" class="l" text-anchor="middle">29,Dec</text>
<text x="320.5" y="512.9" class="l" text-anchor="middle">30,Dec</text>
<path d="M29.5 373.4V500.4H320.5" class="ax"/>
<path d="M29.67 458.7C29.87 459.09 30.86 461.26 31.35 462.04C31.83 462.82 33.27 464.61 33.86 465.39C34.44 466.17 35.97 468.15 36.36 468.73C36.75 469.32 36.97 470.99 37.2 470.41C37.43 469.82 38.08 464.4 38.37 463.71C38.66 463.03 39.36 463.91 39.71 464.55C40.06 465.19 40.99 468.84 41.38 469.23C41.77 469.62 42.67 468.15 43.06 467.9C43.45 467.64 44.34 468.23 44.73 467.06C45.12 465.89 46.01 460.1 46.4 457.86C46.79 455.61 47.68 450.36 48.07 447.82C48.46 445.28 49.4 439.04 49.75 436.11C50.1 433.18 50.79 424.78 51.09 422.73C51.38 420.68 51.98 418.84 52.26 418.55C52.53 418.25 53.13 418.76 53.43 420.22C53.72 421.68 54.41 428.46 54.77 431.09C55.12 433.73 56.05 440.56 56.44 442.8C56.83 445.05 57.68 449.26 58.11 450.33C58.54 451.4 59.69 451.71 60.12 452C60.55 452.3 61.4 452.16 61.79 452.84C62.18 453.52 63.02 456.59 63.46 457.86C63.91 459.13 65.09 462.54 65.64 463.71C66.19 464.88 67.56 467.02 68.15 467.9C68.73 468.77 70.11 470.36 70.66 471.24C71.2 472.12 72.31 474.55 72.83 475.42C73.36 476.3 74.75 478.13 75.17 478.77C75.6 479.41 76.24 480.46 76.51 480.94C76.79 481.43 77.28 483.79 77.52 482.95C77.75 482.11 78.29 475.51 78.52 473.75C78.75 471.99 79.21 468.87 79.52 467.9C79.84 466.92 80.85 465.87 81.2 465.39C81.55 464.9 82.2 465.18 82.54 463.71C82.87 462.25 83.73 456.06 84.04 452.84C84.35 449.62 84.92 439.43 85.21 436.11C85.5 432.79 86.24 426.74 86.55 424.4C86.86 422.06 87.6 417.05 87.89 416.04C88.18 415.02 88.79 415.31 89.06 415.7C89.33 416.09 89.98 417.98 90.23 419.38C90.48 420.79 90.98 424.82 91.23 427.75C91.49 430.67 92.13 442.13 92.41 444.48C92.68 446.82 93.24 447.14 93.58 447.82C93.91 448.5 94.86 449.45 95.25 450.33C95.64 451.21 96.53 454.57 96.92 455.35C97.31 456.13 98.2 456.53 98.59 457.02C98.99 457.51 99.88 458.85 100.27 459.53C100.66 460.21 101.49 462.1 101.94 462.88C102.39 463.66 103.57 465.44 104.12 466.22C104.66 467 106.04 468.79 106.62 469.57C107.21 470.35 108.55 472.04 109.13 472.91C109.72 473.79 111.16 476.36 111.64 477.1C112.13 477.84 112.96 479.27 113.32 479.27C113.67 479.27 114.3 478.13 114.65 477.1C115.01 476.06 115.94 471.67 116.33 470.41C116.72 469.14 117.67 467.3 118 466.22C118.33 465.15 118.9 463.35 119.17 461.2C119.44 459.06 120.05 450.75 120.34 447.82C120.63 444.89 121.37 438.45 121.68 436.11C121.99 433.77 122.71 429.07 123.02 427.75C123.33 426.42 124.03 424.93 124.36 424.74C124.69 424.54 125.49 424.36 125.86 426.07C126.23 427.79 127.18 436.33 127.51 439.46C127.84 442.58 128.39 450.6 128.68 452.84C128.97 455.08 129.67 457.82 130.02 458.7C130.37 459.57 131.3 460.37 131.69 460.37C132.08 460.37 133.01 458.4 133.36 458.7C133.72 458.99 134.35 461.9 134.7 462.88C135.05 463.85 135.95 466.28 136.38 467.06C136.8 467.84 137.86 468.89 138.38 469.57C138.91 470.25 140.35 472.04 140.89 472.91C141.44 473.79 142.58 476.22 143.07 477.1C143.55 477.97 144.55 479.66 145.07 480.44C145.6 481.22 147.04 483.01 147.58 483.79C148.13 484.57 149.37 487.23 149.76 487.13C150.15 487.04 150.66 484.71 150.93 482.95C151.2 481.2 151.81 473.83 152.1 472.08C152.39 470.32 153.09 468.58 153.44 467.9C153.79 467.21 154.76 466.81 155.11 466.22C155.46 465.64 156.16 464.83 156.45 462.88C156.74 460.93 157.35 452.62 157.62 449.49C157.89 446.37 158.54 438.45 158.79 436.11C159.05 433.77 159.54 430.36 159.8 429.42C160.05 428.48 160.69 427.59 160.97 428.08C161.24 428.57 161.84 431.69 162.14 433.6C162.43 435.51 163.12 442.23 163.48 444.48C163.83 446.72 164.66 451.57 165.15 452.84C165.64 454.11 167.17 454.76 167.66 455.35C168.15 455.93 168.94 456.98 169.33 457.86C169.72 458.74 170.52 461.61 171 462.88C171.49 464.15 173.03 467.56 173.51 468.73C174 469.9 174.7 472.04 175.19 472.91C175.67 473.79 177.11 475.48 177.7 476.26C178.28 477.04 179.62 478.83 180.2 479.61C180.79 480.39 182.17 482.27 182.71 482.95C183.26 483.63 184.44 484.88 184.89 485.46C185.34 486.05 186.23 488.26 186.56 487.97C186.89 487.68 187.4 483.93 187.73 482.95C188.06 481.98 189.01 480 189.41 479.61C189.8 479.22 190.75 479.9 191.08 479.61C191.41 479.31 192 479.05 192.25 477.1C192.5 475.14 193 466.49 193.25 462.88C193.51 459.27 194.15 449.27 194.42 446.15C194.7 443.03 195.26 437.91 195.59 436.11C195.93 434.32 196.92 431.15 197.27 430.76C197.62 430.37 198.25 431.17 198.61 432.77C198.96 434.37 199.89 442.33 200.28 444.48C200.67 446.62 201.52 449.8 201.95 451.17C202.38 452.53 203.47 454.82 203.96 456.19C204.45 457.55 205.59 461.12 206.13 462.88C206.68 464.63 208.06 469.58 208.64 471.24C209.23 472.9 210.57 476.02 211.15 477.1C211.74 478.17 213.13 479.76 213.66 480.44C214.19 481.13 215.24 482.27 215.67 482.95C216.1 483.63 216.89 485.61 217.34 486.3C217.79 486.98 219.01 488.38 219.52 488.81C220.02 489.24 221.24 490.27 221.69 489.98C222.14 489.68 223.04 487.7 223.36 486.3C223.69 484.89 224.24 478.62 224.51 477.93C224.78 477.25 225.39 480.44 225.68 480.44C225.97 480.44 226.71 479.2 227.02 477.93C227.33 476.66 228.06 472.5 228.36 469.57C228.65 466.64 229.25 456.74 229.53 452.84C229.8 448.94 230.45 439.23 230.7 436.11C230.95 432.99 231.45 427.83 231.7 426.07C231.96 424.32 232.64 421.74 232.87 421.06C233.11 420.37 233.46 419.83 233.71 420.22C233.96 420.61 234.76 422.74 235.05 424.4C235.34 426.06 235.95 431.51 236.22 434.44C236.49 437.37 237.14 446.86 237.39 449.49C237.64 452.13 238.04 455.85 238.39 457.02C238.75 458.19 239.87 458.95 240.4 459.53C240.93 460.12 242.42 461.26 242.91 462.04C243.4 462.82 244.13 465.05 244.58 466.22C245.03 467.39 246.27 470.91 246.76 472.08C247.25 473.25 248.24 475.38 248.77 476.26C249.29 477.14 250.69 478.83 251.28 479.61C251.86 480.39 253.2 482.27 253.78 482.95C254.37 483.63 255.81 484.97 256.29 485.46C256.78 485.95 257.67 486.74 257.97 487.13C258.26 487.52 258.55 489.68 258.8 488.81C259.06 487.93 259.85 481.07 260.14 479.61C260.43 478.14 261.04 476.55 261.31 476.26C261.59 475.97 262.19 477.88 262.48 477.1C262.78 476.32 263.51 472.4 263.82 469.57C264.13 466.74 264.87 456.55 265.16 452.84C265.45 449.13 266.06 440.71 266.33 437.78C266.6 434.86 267.25 429.41 267.5 427.75C267.76 426.09 268.25 423.76 268.51 423.57C268.76 423.37 269.34 424.81 269.68 426.07C270.01 427.34 270.96 432.1 271.35 434.44C271.74 436.78 272.57 443.71 273.02 446.15C273.47 448.59 274.71 453.79 275.2 455.35C275.68 456.91 276.68 458.46 277.2 459.53C277.73 460.61 279.13 463.48 279.71 464.55C280.3 465.62 281.64 467.76 282.22 468.73C282.81 469.71 284.15 472.04 284.73 472.91C285.32 473.79 286.66 475.58 287.24 476.26C287.83 476.94 289.17 478.22 289.75 478.77C290.34 479.32 291.77 480.42 292.26 480.94C292.75 481.47 293.58 483.21 293.93 483.29C294.28 483.36 294.98 481.55 295.27 481.61C295.56 481.67 296.17 483.83 296.44 483.79C296.72 483.75 297.32 482.35 297.61 481.28C297.91 480.21 298.64 476.73 298.95 474.59C299.26 472.44 300 465.8 300.29 462.88C300.58 459.95 301.19 452.62 301.46 449.49C301.73 446.37 302.34 438.75 302.63 436.11C302.92 433.48 303.62 428.67 303.97 426.91C304.32 425.15 305.25 422.23 305.64 421.06C306.03 419.88 306.96 417.07 307.32 416.87C307.67 416.68 308.36 417.53 308.65 419.38C308.95 421.24 309.49 429.35 309.83 432.77C310.16 436.18 311.11 445.73 311.5 448.66C311.89 451.59 312.78 456.1 313.17 457.86C313.56 459.62 314.36 462.78 314.84 463.71C315.33 464.65 316.87 465.3 317.35 465.89C317.84 466.47 318.73 468.21 319.03 468.73C319.32 469.26 319.76 470.21 319.86 470.41" class="log"/>
<path d="M29.67 457.86C29.95 458.42 30.65 459.95 31.35 461.2C32.04 462.46 33.02 464.13 33.86 465.39C34.69 466.64 35.53 467.48 36.36 468.73C37.2 469.99 38.04 471.72 38.87 472.91C39.71 474.11 40.63 475.93 41.38 475.93C42.14 475.93 42.83 474.67 43.39 472.91C43.95 471.16 44.23 468.45 44.73 465.39C45.23 462.32 45.79 458.83 46.4 454.51C47.01 450.19 47.8 445.03 48.41 439.46C49.02 433.88 49.52 425.66 50.08 421.06C50.64 416.46 51.2 413.75 51.75 411.86C52.31 409.96 52.93 409.54 53.43 409.68C53.93 409.82 54.32 410.8 54.77 412.69C55.21 414.59 55.6 417.71 56.1 421.06C56.61 424.4 57.16 428.86 57.78 432.77C58.39 436.67 59.03 440.99 59.78 444.48C60.54 447.96 61.46 451.31 62.29 453.68C63.13 456.05 63.97 457.16 64.8 458.7C65.64 460.23 66.48 461.62 67.31 462.88C68.15 464.13 68.99 465.11 69.82 466.22C70.66 467.34 71.49 468.45 72.33 469.57C73.17 470.68 74 471.66 74.84 472.91C75.68 474.17 76.79 476.32 77.35 477.1C77.91 477.88 77.77 478.43 78.19 477.6C78.6 476.76 79.3 474.39 79.86 472.08C80.42 469.76 80.97 467.48 81.53 463.71C82.09 459.95 82.65 454.37 83.2 449.49C83.76 444.62 84.32 439.46 84.88 434.44C85.43 429.42 86.05 422.87 86.55 419.38C87.05 415.9 87.39 414.78 87.89 413.53C88.39 412.27 89 411.58 89.56 411.86C90.12 412.13 90.68 412.83 91.23 415.2C91.79 417.57 92.35 422.03 92.91 426.07C93.46 430.12 93.97 435.55 94.58 439.46C95.19 443.36 95.83 446.71 96.59 449.49C97.34 452.28 98.26 454.09 99.1 456.19C99.93 458.28 100.77 460.37 101.61 462.04C102.44 463.71 103.28 464.83 104.12 466.22C104.95 467.62 105.7 469.01 106.62 470.41C107.54 471.8 108.66 473.19 109.64 474.59C110.61 475.98 111.64 477.88 112.48 478.77C113.32 479.66 114.01 480.36 114.65 479.94C115.3 479.52 115.77 477.99 116.33 476.26C116.88 474.53 117.44 472.91 118 469.57C118.56 466.22 119.12 460.93 119.67 456.19C120.23 451.45 120.79 445.45 121.35 441.13C121.9 436.81 122.46 432.99 123.02 430.26C123.58 427.52 124.08 425.29 124.69 424.74C125.3 424.18 126.06 425.29 126.67 426.91C127.28 428.53 127.79 431.23 128.35 434.44C128.9 437.64 129.46 442.8 130.02 446.15C130.58 449.49 131.08 452 131.69 454.51C132.3 457.02 133.09 459.39 133.7 461.2C134.31 463.02 134.73 464.13 135.37 465.39C136.01 466.64 136.77 467.62 137.55 468.73C138.33 469.85 139.22 470.96 140.06 472.08C140.89 473.19 141.73 474.31 142.57 475.42C143.4 476.54 144.24 477.79 145.07 478.77C145.91 479.75 146.75 480.53 147.58 481.28C148.42 482.03 149.4 483.43 150.09 483.29C150.79 483.15 151.21 482.17 151.77 480.44C152.32 478.71 152.88 476.12 153.44 472.91C154 469.71 154.55 465.39 155.11 461.2C155.67 457.02 156.23 452.28 156.78 447.82C157.34 443.36 157.9 437.92 158.46 434.44C159.01 430.95 159.57 428.86 160.13 426.91C160.69 424.96 161.19 423.01 161.8 422.73C162.42 422.45 163.2 423.43 163.81 425.24C164.42 427.05 164.93 430.54 165.48 433.6C166.04 436.67 166.51 440.57 167.16 443.64C167.8 446.71 168.55 449.22 169.33 452C170.11 454.79 171 458 171.84 460.37C172.68 462.74 173.51 464.55 174.35 466.22C175.19 467.9 176.02 469.15 176.86 470.41C177.7 471.66 178.53 472.64 179.37 473.75C180.2 474.87 181.04 475.98 181.88 477.1C182.71 478.21 183.55 479.41 184.39 480.44C185.22 481.47 186.25 482.87 186.9 483.29C187.54 483.7 187.73 483.7 188.23 482.95C188.74 482.2 189.35 481 189.91 478.77C190.46 476.54 191.11 473.33 191.58 469.57C192.05 465.8 192.36 460.93 192.75 456.19C193.14 451.45 193.5 445.87 193.92 441.13C194.34 436.39 194.76 431.09 195.26 427.75C195.76 424.4 196.38 422.59 196.93 421.06C197.49 419.52 197.99 418.41 198.61 418.55C199.22 418.69 200 419.8 200.61 421.89C201.23 423.98 201.73 427.61 202.29 431.09C202.84 434.58 203.32 439.18 203.96 442.8C204.6 446.43 205.35 449.77 206.13 452.84C206.91 455.91 207.81 458.7 208.64 461.2C209.48 463.71 210.32 466.08 211.15 467.9C211.99 469.71 212.74 470.74 213.66 472.08C214.58 473.42 215.7 474.81 216.67 475.93C217.65 477.04 218.62 477.88 219.52 478.77C220.41 479.66 221.33 481.14 222.03 481.28C222.72 481.42 223.12 480.72 223.67 479.61C224.23 478.49 224.79 477.1 225.35 474.59C225.9 472.08 226.41 468.45 227.02 464.55C227.63 460.65 228.33 456.05 229.03 451.17C229.72 446.29 230.56 439.32 231.2 435.28C231.84 431.23 232.32 428.86 232.87 426.91C233.43 424.96 233.99 423.7 234.55 423.57C235.1 423.43 235.66 424.26 236.22 426.07C236.78 427.89 237.25 431.37 237.89 434.44C238.53 437.51 239.37 441.41 240.07 444.48C240.76 447.54 241.32 450.05 242.07 452.84C242.83 455.63 243.75 458.83 244.58 461.2C245.42 463.57 246.26 465.39 247.09 467.06C247.93 468.73 248.77 469.99 249.6 471.24C250.44 472.5 251.28 473.47 252.11 474.59C252.95 475.7 253.78 476.87 254.62 477.93C255.46 478.99 256.38 480.16 257.13 480.94C257.88 481.72 258.52 482.98 259.14 482.62C259.75 482.25 260.25 480.94 260.81 478.77C261.37 476.59 261.93 473.33 262.48 469.57C263.04 465.8 263.6 460.79 264.16 456.19C264.71 451.59 265.27 446.43 265.83 441.97C266.39 437.51 266.92 432.91 267.5 429.42C268.09 425.93 268.7 422.95 269.34 421.06C269.98 419.16 270.74 418.18 271.35 418.04C271.96 417.91 272.46 418.6 273.02 420.22C273.58 421.84 274.14 424.68 274.7 427.75C275.25 430.81 275.73 435.14 276.37 438.62C277.01 442.11 277.79 445.73 278.54 448.66C279.3 451.59 280.05 453.82 280.88 456.19C281.72 458.56 282.64 460.79 283.56 462.88C284.48 464.97 285.46 466.92 286.41 468.73C287.35 470.54 288.27 472.27 289.25 473.75C290.22 475.23 291.26 476.48 292.26 477.6C293.26 478.71 294.49 479.88 295.27 480.44C296.05 481 296.39 481.5 296.94 480.94C297.5 480.39 298.06 479.27 298.62 477.1C299.17 474.92 299.73 471.8 300.29 467.9C300.85 463.99 301.41 458.56 301.96 453.68C302.52 448.8 303.08 443.22 303.64 438.62C304.19 434.02 304.7 429.28 305.31 426.07C305.92 422.87 306.7 420.64 307.32 419.38C307.93 418.13 308.43 418.13 308.99 418.55C309.55 418.96 310.1 419.8 310.66 421.89C311.22 423.98 311.72 427.75 312.33 431.09C312.95 434.44 313.64 438.48 314.34 441.97C315.04 445.45 315.79 448.94 316.52 452C317.24 455.07 318.13 458.56 318.69 460.37C319.25 462.18 319.67 462.46 319.86 462.88" class="sim"/>
<text x="516.9" y="360.7" class="t" text-anchor="middle"><tspan font-weight="bold">(f)</tspan> Bisoi- Summer</text>
<text transform="translate(360.6,436.9) rotate(-90)" class="yt" text-anchor="middle">Indoor air temperature (°C)</text>
<text x="374" y="503.1" class="l" text-anchor="end">12</text>
<text x="374" y="477.7" class="l" text-anchor="end">16</text>
<text x="374" y="452.3" class="l" text-anchor="end">20</text>
<text x="374" y="426.9" class="l" text-anchor="end">24</text>
<text x="374" y="401.5" class="l" text-anchor="end">28</text>
<text x="374" y="376.1" class="l" text-anchor="end">32</text>
<text x="381" y="512.9" class="l" text-anchor="middle">21,Oct</text>
<text x="419.8" y="512.9" class="l" text-anchor="middle">22,Oct</text>
<text x="458.5" y="512.9" class="l" text-anchor="middle">23,Oct</text>
<text x="497.3" y="512.9" class="l" text-anchor="middle">24,Oct</text>
<text x="536.1" y="512.9" class="l" text-anchor="middle">25,Oct</text>
<text x="574.9" y="512.9" class="l" text-anchor="middle">26,Oct</text>
<text x="613.6" y="512.9" class="l" text-anchor="middle">27,Oct</text>
<text x="652.4" y="512.9" class="l" text-anchor="middle">28,Oct</text>
<path d="M381 373.4V500.4H671.8" class="ax"/>
<path d="M380.77 467.1C380.97 467.62 382.08 470.59 382.53 471.51C382.98 472.44 384.14 474.33 384.65 475.05C385.17 475.77 386.41 476.93 386.95 477.7C387.48 478.46 388.73 480.71 389.24 481.58C389.76 482.45 390.95 485.05 391.36 485.11C391.77 485.17 392.4 483.28 392.77 482.11C393.14 480.94 394.09 476.28 394.54 475.05C394.99 473.81 396.25 472.65 396.66 471.51C397.07 470.38 397.76 468.32 398.07 465.33C398.38 462.35 399.02 450.03 399.31 445.91C399.6 441.79 400.19 433.11 400.54 430.02C400.89 426.93 401.83 421.11 402.31 419.42C402.78 417.73 404.13 415.64 404.6 415.54C405.08 415.44 406.02 417.06 406.37 418.54C406.72 420.02 407.3 425.27 407.61 428.25C407.91 431.24 408.69 440.95 409.02 444.14C409.35 447.34 410.02 454.14 410.43 455.62C410.84 457.11 412.06 456.55 412.55 456.86C413.04 457.17 414.22 457.59 414.67 458.27C415.12 458.95 416.02 461.66 416.43 462.69C416.85 463.72 417.73 465.97 418.2 467.1C418.67 468.23 419.92 471.37 420.5 472.4C421.07 473.43 422.53 475.11 423.14 475.93C423.76 476.75 425.22 478.64 425.79 479.46C426.37 480.29 427.57 482.07 428.09 482.99C428.6 483.92 429.86 486.69 430.21 487.41C430.56 488.13 430.84 489.28 431.09 489.17C431.34 489.07 432.06 488.07 432.33 486.52C432.59 484.98 433.06 477.58 433.39 475.93C433.72 474.28 434.74 473.63 435.15 472.4C435.56 471.16 436.57 468.01 436.92 465.33C437.27 462.66 437.87 453.36 438.15 449.44C438.44 445.53 439.08 435.29 439.39 431.78C439.7 428.28 440.47 421.28 440.8 419.42C441.13 417.57 441.84 416.1 442.22 415.89C442.59 415.69 443.57 416.83 443.98 417.66C444.39 418.48 445.4 421.31 445.75 422.96C446.1 424.6 446.69 429.31 446.98 431.78C447.27 434.26 447.91 441.26 448.22 444.14C448.53 447.03 449.36 454.75 449.63 456.51C449.9 458.26 450.27 459.57 450.51 459.15C450.76 458.74 451.48 453.28 451.75 452.97C452.02 452.66 452.6 455.58 452.81 456.51C453.02 457.43 453.17 460.1 453.52 460.92C453.87 461.74 455.24 462.85 455.81 463.57C456.39 464.29 457.84 466.28 458.46 467.1C459.08 467.92 460.49 469.81 461.11 470.63C461.73 471.46 463.2 473.34 463.76 474.16C464.31 474.99 465.4 476.83 465.88 477.7C466.35 478.56 467.41 481.58 467.82 481.58C468.23 481.58 469.06 478.66 469.41 477.7C469.76 476.73 470.45 473.69 470.82 473.28C471.19 472.87 472.18 474.27 472.59 474.16C473 474.06 473.98 473.84 474.35 472.4C474.72 470.96 475.46 465.1 475.77 461.8C476.07 458.51 476.67 449.09 477 444.14C477.34 439.2 478.31 423.13 478.65 419.42C478.99 415.72 479.58 413.43 479.88 412.36C480.19 411.29 480.97 409.83 481.3 410.24C481.63 410.65 482.4 414 482.71 415.89C483.02 417.79 483.6 423.81 483.95 426.49C484.3 429.17 485.3 435.96 485.71 438.85C486.12 441.73 487.07 448.74 487.48 451.21C487.89 453.68 488.89 458.49 489.24 460.04C489.59 461.58 490.13 464.25 490.48 464.45C490.83 464.66 491.87 461.91 492.25 461.8C492.62 461.7 493.29 462.74 493.66 463.57C494.03 464.39 495.01 468.04 495.42 468.87C495.84 469.69 496.67 470.22 497.19 470.63C497.7 471.04 499.26 471.78 499.84 472.4C500.42 473.02 501.62 475.11 502.13 475.93C502.65 476.75 503.76 478.74 504.25 479.46C504.75 480.18 505.92 481.66 506.37 482.11C506.82 482.56 507.73 483.45 508.14 483.35C508.55 483.24 509.53 482.3 509.9 481.23C510.27 480.16 510.95 475.19 511.32 474.16C511.69 473.13 512.71 473.63 513.08 472.4C513.45 471.16 514.19 466.66 514.49 463.57C514.8 460.48 515.44 449.82 515.73 445.91C516.02 442 516.66 432.9 516.97 430.02C517.28 427.13 518.05 422.32 518.38 421.19C518.71 420.06 519.42 420.1 519.79 420.31C520.16 420.51 521.15 421.82 521.56 422.96C521.97 424.09 522.91 427.75 523.32 430.02C523.74 432.28 524.68 439.29 525.09 442.38C525.5 445.47 526.5 454.34 526.86 456.51C527.21 458.67 527.8 461.02 528.09 460.92C528.38 460.82 529.02 455.73 529.33 455.62C529.64 455.52 530.41 458.8 530.74 460.04C531.07 461.27 531.74 465.29 532.15 466.22C532.56 467.14 533.72 467.47 534.27 467.98C534.83 468.5 536.3 469.91 536.92 470.63C537.54 471.35 538.95 473.44 539.57 474.16C540.19 474.88 541.64 476.19 542.22 476.81C542.79 477.43 544.04 478.95 544.51 479.46C544.99 479.98 545.87 481.12 546.28 481.23C546.69 481.33 547.69 480.34 548.04 480.34C548.39 480.34 549.03 481.95 549.28 481.23C549.53 480.51 549.9 475.4 550.16 474.16C550.43 472.93 551.27 471.56 551.58 470.63C551.89 469.7 552.52 468.28 552.81 466.22C553.1 464.16 553.74 455.76 554.05 452.97C554.36 450.19 555.13 444.44 555.46 442.38C555.79 440.32 556.46 436.14 556.87 435.32C557.29 434.49 558.44 435.21 558.99 435.32C559.55 435.42 561.13 435.37 561.64 436.2C562.16 437.02 563.06 440.63 563.41 442.38C563.76 444.13 564.38 449.87 564.64 451.21C564.91 452.55 565.43 453.86 565.7 453.86C565.97 453.86 566.65 451.52 566.94 451.21C567.23 450.9 567.82 450.38 568.17 451.21C568.52 452.03 569.53 456.83 569.94 458.27C570.35 459.71 571.23 462.58 571.71 463.57C572.18 464.56 573.64 466.23 574 466.75C574.36 467.26 574.47 467.43 574.77 467.98C575.06 468.54 576.02 470.69 576.53 471.51C577.05 472.34 578.56 474.22 579.18 475.05C579.8 475.87 581.27 477.86 581.83 478.58C582.39 479.3 583.54 480.61 583.95 481.23C584.36 481.84 585.03 483.36 585.36 483.88C585.69 484.39 586.46 485.74 586.77 485.64C587.08 485.54 587.72 484.33 588.01 482.99C588.3 481.65 588.94 474.99 589.25 474.16C589.55 473.34 590.33 477.37 590.66 475.93C590.99 474.49 591.76 465.1 592.07 461.8C592.38 458.51 593.02 449.84 593.31 447.68C593.6 445.51 594.13 443.98 594.54 443.26C594.95 442.54 596.36 442.11 596.84 441.5C597.31 440.88 598.25 438.58 598.6 437.96C598.95 437.35 599.53 435.89 599.84 436.2C600.15 436.51 600.92 439.07 601.25 440.61C601.58 442.16 602.29 447.18 602.67 449.44C603.04 451.71 603.98 458.08 604.43 460.04C604.88 461.99 605.99 465.15 606.55 466.22C607.11 467.29 608.62 468.54 609.2 469.22C609.78 469.9 610.94 471.51 611.49 472.04C612.05 472.58 613.41 473.25 613.97 473.81C614.52 474.37 615.73 476.05 616.26 476.81C616.8 477.57 618 479.52 618.56 480.34C619.11 481.17 620.47 483.2 621.03 483.88C621.59 484.56 622.79 485.82 623.33 486.17C623.86 486.52 625.11 486.79 625.62 486.88C626.14 486.96 627.33 487.23 627.74 486.88C628.15 486.53 628.84 485.36 629.15 483.88C629.46 482.39 630.1 476.74 630.39 474.16C630.68 471.59 631.32 465.1 631.62 461.8C631.93 458.51 632.71 449.52 633.04 445.91C633.37 442.31 634.14 433.79 634.45 430.9C634.76 428.02 635.34 422.78 635.69 421.19C636.04 419.6 637.04 417.72 637.45 417.3C637.86 416.89 638.87 417 639.22 417.66C639.57 418.32 640.14 420.9 640.45 422.96C640.76 425.02 641.54 432.23 641.87 435.32C642.2 438.41 642.91 446.56 643.28 449.44C643.65 452.33 644.59 458.18 645.04 460.04C645.5 461.89 646.61 464.1 647.16 465.33C647.72 466.57 649.19 469.5 649.81 470.63C650.43 471.77 651.84 474.02 652.46 475.05C653.08 476.08 654.49 478.53 655.11 479.46C655.73 480.39 657.14 482.21 657.76 482.99C658.38 483.78 659.79 485.55 660.41 486.17C661.03 486.79 662.5 487.84 663.06 488.29C663.61 488.74 664.72 490.16 665.17 490.06C665.63 489.95 666.57 488.44 666.94 487.41C667.31 486.38 668.02 483.6 668.35 481.23C668.68 478.86 669.46 471.22 669.77 467.1C670.07 462.98 670.71 450.03 671 445.91C671.29 441.79 672.01 433.64 672.24 431.78C672.46 429.93 672.86 430.22 672.94 430.02" class="log"/>
<path d="M380.77 459.15C381.12 459.6 382.15 460.92 382.88 461.8C383.62 462.69 384.36 463.57 385.18 464.45C386 465.33 386.95 466.22 387.83 467.1C388.71 467.98 389.65 469.01 390.48 469.75C391.3 470.48 392.04 471.51 392.77 471.51C393.51 471.51 394.24 471.37 394.89 469.75C395.54 468.13 396.07 465.48 396.66 461.8C397.25 458.12 397.84 452.68 398.42 447.68C399.01 442.67 399.6 436.79 400.19 431.78C400.78 426.78 401.37 421.34 401.96 417.66C402.54 413.98 403.19 411.54 403.72 409.71C404.25 407.89 404.6 406.86 405.13 406.71C405.66 406.56 406.31 407.59 406.9 408.83C407.49 410.07 408.08 411.62 408.67 414.13C409.25 416.63 409.84 420.31 410.43 423.84C411.02 427.37 411.55 431.64 412.2 435.32C412.84 438.99 413.52 442.82 414.32 445.91C415.11 449 416.08 451.5 416.96 453.86C417.85 456.21 418.73 458.27 419.61 460.04C420.5 461.8 421.38 463.13 422.26 464.45C423.14 465.78 424.03 466.95 424.91 467.98C425.79 469.01 426.68 469.66 427.56 470.63C428.44 471.6 429.47 473.07 430.21 473.81C430.94 474.55 431.33 475.43 431.97 475.05C432.62 474.66 433.45 473.43 434.09 471.51C434.74 469.6 435.27 467.25 435.86 463.57C436.45 459.89 437.04 454.74 437.62 449.44C438.21 444.14 438.8 437.23 439.39 431.78C439.98 426.34 440.57 420.45 441.16 416.78C441.74 413.1 442.33 411.27 442.92 409.71C443.51 408.15 444.1 407.42 444.69 407.42C445.28 407.42 445.86 408 446.45 409.71C447.04 411.42 447.63 414.57 448.22 417.66C448.81 420.75 449.4 424.57 449.99 428.25C450.57 431.93 451.07 436.2 451.75 439.73C452.43 443.26 453.22 446.5 454.05 449.44C454.87 452.39 455.81 455.18 456.7 457.39C457.58 459.6 458.46 461.13 459.34 462.69C460.23 464.25 461.11 465.48 461.99 466.75C462.88 468.01 463.76 469.19 464.64 470.28C465.52 471.37 466.5 472.63 467.29 473.28C468.08 473.93 468.67 474.31 469.41 474.16C470.14 474.02 471.03 473.28 471.7 472.4C472.38 471.51 472.88 471.22 473.47 468.87C474.06 466.51 474.65 462.39 475.24 458.27C475.82 454.15 476.34 451.8 477 444.14C477.66 436.49 478.46 418.54 479.18 412.36C479.89 406.18 480.65 408.18 481.3 407.06C481.94 405.94 482.47 405.5 483.06 405.65C483.65 405.8 484.24 406.53 484.83 407.95C485.42 409.36 486.01 411.33 486.59 414.13C487.18 416.92 487.71 420.9 488.36 424.72C489.01 428.55 489.74 433.26 490.48 437.08C491.22 440.91 491.95 444.44 492.78 447.68C493.6 450.91 494.54 454 495.42 456.51C496.31 459.01 497.19 460.92 498.07 462.69C498.96 464.45 499.84 465.78 500.72 467.1C501.6 468.42 502.49 469.51 503.37 470.63C504.25 471.75 505.14 472.87 506.02 473.81C506.9 474.75 507.93 476.08 508.67 476.28C509.4 476.49 509.84 476.14 510.43 475.05C511.02 473.96 511.61 472.84 512.2 469.75C512.79 466.66 513.38 461.66 513.96 456.51C514.55 451.36 515.14 444.44 515.73 438.85C516.32 433.26 516.82 427.08 517.5 422.96C518.17 418.84 519 416.25 519.79 414.13C520.59 412.01 521.47 410.39 522.26 410.24C523.06 410.09 523.88 411.42 524.56 413.24C525.24 415.07 525.74 418.1 526.33 421.19C526.91 424.28 527.41 427.96 528.09 431.78C528.77 435.61 529.65 440.47 530.39 444.14C531.12 447.82 531.71 451.06 532.51 453.86C533.3 456.65 534.27 458.86 535.15 460.92C536.04 462.98 536.92 464.66 537.8 466.22C538.69 467.78 539.57 468.95 540.45 470.28C541.33 471.6 542.22 472.93 543.1 474.16C543.98 475.4 544.93 476.67 545.75 477.7C546.57 478.73 547.37 480.49 548.04 480.34C548.72 480.2 549.22 478.87 549.81 476.81C550.4 474.75 550.99 471.96 551.58 467.98C552.16 464.01 552.75 457.83 553.34 452.97C553.93 448.12 554.46 443.56 555.11 438.85C555.76 434.14 556.52 428.4 557.23 424.72C557.93 421.04 558.7 418.6 559.35 416.78C559.99 414.95 560.52 413.92 561.11 413.77C561.7 413.63 562.29 414.36 562.88 415.89C563.47 417.42 564.05 420.01 564.64 422.96C565.23 425.9 565.82 429.72 566.41 433.55C567 437.38 567.5 442.23 568.17 445.91C568.85 449.59 569.65 452.83 570.47 455.62C571.29 458.42 572.34 460.83 573.12 462.69C573.89 464.54 574.4 465.42 575.12 466.75C575.83 468.07 576.59 469.4 577.41 470.63C578.24 471.87 579.18 472.99 580.06 474.16C580.95 475.34 581.83 476.75 582.71 477.7C583.59 478.64 584.62 479.37 585.36 479.81C586.1 480.26 586.54 480.7 587.13 480.34C587.71 479.99 588.3 479.61 588.89 477.7C589.48 475.78 590.07 472.99 590.66 468.87C591.25 464.75 591.84 458.57 592.42 452.97C593.01 447.38 593.6 440.47 594.19 435.32C594.78 430.17 595.31 425.46 595.96 422.07C596.6 418.69 597.43 416.57 598.07 415.01C598.72 413.45 599.25 412.57 599.84 412.71C600.43 412.86 601.02 413.89 601.61 415.89C602.19 417.89 602.78 421.19 603.37 424.72C603.96 428.25 604.46 432.96 605.14 437.08C605.81 441.2 606.61 445.91 607.43 449.44C608.26 452.97 609.2 455.62 610.08 458.27C610.96 460.92 611.85 463.27 612.73 465.33C613.61 467.39 614.5 469.01 615.38 470.63C616.26 472.25 617.14 473.72 618.03 475.05C618.91 476.37 619.79 477.55 620.68 478.58C621.56 479.61 622.5 480.64 623.33 481.23C624.15 481.82 624.94 482.26 625.62 482.11C626.3 481.96 626.8 481.67 627.39 480.34C627.98 479.02 628.56 477.25 629.15 474.16C629.74 471.07 630.33 466.51 630.92 461.8C631.51 457.09 632.1 450.91 632.68 445.91C633.27 440.91 633.86 435.61 634.45 431.78C635.04 427.96 635.63 425.07 636.22 422.96C636.8 420.84 637.39 419.51 637.98 419.07C638.57 418.63 639.16 418.78 639.75 420.31C640.34 421.84 640.92 425.02 641.51 428.25C642.1 431.49 642.63 435.9 643.28 439.73C643.93 443.56 644.6 447.82 645.4 451.21C646.19 454.59 647.16 457.39 648.05 460.04C648.93 462.69 649.81 465.19 650.7 467.1C651.58 469.01 652.46 470.19 653.34 471.51C654.23 472.84 655.11 474.02 655.99 475.05C656.88 476.08 657.76 476.81 658.64 477.7C659.52 478.58 660.41 479.61 661.29 480.34C662.17 481.08 663.29 481.76 663.94 482.11C664.59 482.46 664.67 482.9 665.17 482.46C665.68 482.02 666.41 480.84 666.94 479.46C667.47 478.08 667.88 477.11 668.35 474.16C668.82 471.22 669.32 465.92 669.77 461.8C670.21 457.68 670.59 453.27 671 449.44C671.41 445.62 672.03 440.61 672.24 438.85" class="sim"/>
<line x1="245.5" y1="531.4" x2="266" y2="531.4" stroke="#5b9bd5" stroke-width="1"/>
<text x="268" y="534.7" class="lg">Logger data</text>
<line x1="353" y1="531.4" x2="375" y2="531.4" stroke="#ed7d31" stroke-width="0.9" stroke-dasharray="2.6,1.1"/>
<text x="376.6" y="534.7" class="lg">Simulated data</text>
</svg>
</body></html>
